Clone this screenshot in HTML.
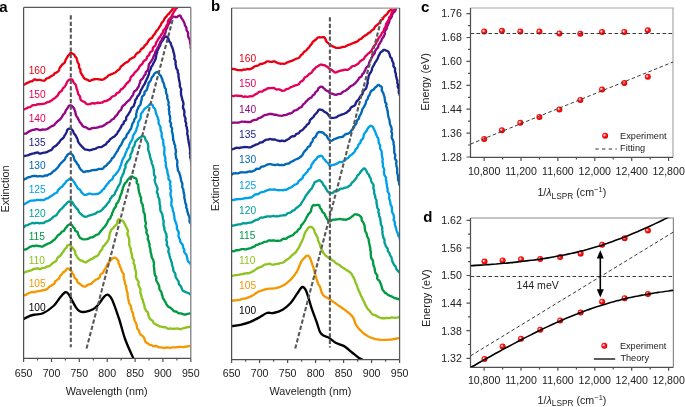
<!DOCTYPE html><html><head><meta charset="utf-8"><style>html,body{margin:0;padding:0;background:#fff;width:685px;height:407px;overflow:hidden}svg{display:block;will-change:transform}text{font-family:"Liberation Sans",sans-serif}</style></head><body>
<svg width="685" height="407" viewBox="0 0 685 407">
<defs>
<clipPath id="ca"><rect x="23.6" y="7.6" width="166.9" height="350.8"/></clipPath>
<clipPath id="cb"><rect x="231.6" y="8.5" width="167.9" height="351"/></clipPath>
<clipPath id="cd"><rect x="470.5" y="217.7" width="203" height="149.3"/></clipPath>
<radialGradient id="dot" cx="0.45" cy="0.45" r="0.6" fx="0.36" fy="0.38"><stop offset="0" stop-color="#ffffff"/><stop offset="0.2" stop-color="#ffb0b0"/><stop offset="0.42" stop-color="#ff1a1a"/><stop offset="0.8" stop-color="#f00000"/><stop offset="1" stop-color="#a00000"/></radialGradient>
</defs>
<g clip-path="url(#ca)" fill="none" stroke-width="2.35" stroke-linejoin="round" stroke-linecap="round">
<path d="M23.3 319.2 C24.4 318.6 27.9 316.7 29.9 315.9 C31.9 315.1 32.9 315.0 35.1 314.6 C37.3 314.2 39.9 314.7 43.0 313.3 C46.1 311.9 50.6 308.6 53.5 306.0 C56.4 303.4 58.1 299.8 60.1 297.5 C62.1 295.2 64.0 292.8 65.4 292.2 C66.8 291.6 67.5 292.9 68.6 294.2 C69.7 295.5 70.7 297.9 71.9 300.1 C73.1 302.3 74.6 305.4 75.9 307.3 C77.2 309.2 78.3 310.5 79.8 311.3 C81.3 312.1 82.9 312.2 85.1 311.9 C87.3 311.6 90.8 310.5 93.0 309.3 C95.2 308.1 96.5 306.7 98.2 304.7 C100.0 302.7 102.0 299.2 103.5 297.5 C105.0 295.8 106.1 294.4 107.5 294.7 C108.9 295.0 110.1 295.6 112.0 299.5 C113.9 303.4 116.6 311.5 118.8 318.0 C121.0 324.5 122.6 331.9 124.9 338.5 C127.2 345.1 131.2 353.5 132.9 357.4 C134.6 361.3 134.7 361.2 135.0 362.0" stroke="#000000"/>
<path d="M23.2 296.1 L23.8 295.4 L24.9 295.0 L26.3 294.7 L27.5 293.8 L28.7 293.2 L29.9 292.8 L31.2 292.2 L32.4 291.9 L33.7 292.1 L35.1 292.0 L36.1 291.7 L37.1 291.4 L38.2 291.2 L39.4 291.1 L40.5 290.8 L41.6 290.5 L42.8 290.3 L43.8 290.1 L44.9 289.8 L46.2 289.5 L47.3 288.9 L48.2 288.0 L49.1 287.0 L50.2 286.3 L51.3 285.8 L52.2 285.0 L53.3 284.4 L54.3 283.7 L54.8 282.5 L55.3 281.3 L56.2 280.6 L57.2 279.9 L58.0 279.2 L59.0 278.6 L59.6 277.4 L60.0 276.1 L60.8 275.1 L61.7 274.3 L62.4 273.3 L63.0 272.4 L64.0 271.9 L65.4 271.0 L66.1 269.7 L67.0 268.7 L68.0 268.5 L69.3 269.0 L70.6 270.5 L71.4 271.0 L71.9 271.8 L72.2 273.0 L72.9 273.9 L73.6 274.9 L74.0 276.1 L74.3 277.3 L74.9 278.2 L76.0 278.9 L76.8 279.8 L77.0 281.1 L77.5 282.2 L78.5 282.9 L79.4 283.4 L80.0 284.0 L81.0 284.8 L82.0 285.6 L82.9 286.2 L84.0 286.6 L85.1 286.7 L86.1 286.2 L86.9 285.5 L87.8 284.8 L89.0 284.4 L90.5 284.0 L91.5 283.7 L92.3 282.9 L93.1 281.8 L94.1 281.1 L95.0 280.3 L96.0 279.5 L97.2 279.1 L98.4 278.6 L99.3 277.9 L99.9 276.9 L100.1 275.7 L100.5 274.6 L101.3 273.8 L102.5 273.2 L103.3 272.4 L103.7 271.3 L104.2 270.3 L104.8 269.2 L105.6 268.3 L106.1 267.2 L106.6 266.0 L107.1 265.0 L107.8 264.0 L108.4 263.1 L109.3 262.0 L110.2 260.8 L111.2 259.7 L112.1 258.8 L112.9 258.0 L113.5 257.8 L114.3 257.7 L115.1 257.7 L116.3 258.4 L117.5 259.8 L118.2 260.4 L118.4 261.3 L118.4 262.4 L118.7 263.5 L119.3 264.4 L119.8 265.5 L120.0 266.8 L120.6 267.9 L121.2 269.0 L121.4 270.2 L121.8 271.3 L122.3 272.3 L123.2 273.3 L123.8 274.3 L123.7 275.5 L123.6 276.6 L123.9 277.7 L123.9 278.9 L124.2 280.0 L124.7 281.1 L124.8 282.3 L125.1 283.6 L125.5 285.0 L126.0 285.9 L126.3 286.9 L126.3 287.9 L126.4 289.0 L126.7 290.1 L126.8 291.2 L127.2 292.3 L127.7 293.4 L127.6 294.6 L127.6 295.8 L127.9 297.0 L128.0 298.2 L128.3 299.3 L128.6 300.4 L128.8 301.6 L129.0 302.7 L129.4 303.7 L130.1 304.8 L130.8 305.8 L131.0 307.0 L131.1 308.2 L131.5 309.4 L131.8 310.6 L132.2 311.7 L132.7 312.8 L133.1 313.9 L133.2 315.1 L133.4 316.2 L133.8 317.2 L134.1 318.2 L134.3 319.2 L134.5 320.2 L134.8 321.0 L135.6 322.4 L136.3 323.7 L136.6 325.0 L136.8 326.2 L137.0 327.3 L137.2 328.4 L137.7 329.2 L138.5 330.0 L139.1 331.1 L139.3 332.2 L139.8 333.2 L140.3 334.1 L141.1 335.0 L142.3 335.8 L143.1 336.4 L143.7 337.3 L144.3 338.4 L144.7 339.6 L145.0 340.9 L145.7 342.1 L146.7 342.9 L147.9 343.4 L148.8 344.1 L149.6 344.8 L151.0 345.0 L152.1 345.3 L153.1 346.1 L154.3 346.3 L155.6 346.0 L156.8 346.2 L158.0 346.9 L159.1 347.3 L160.4 347.3 L161.5 347.3 L162.6 347.7 L163.8 348.0 L165.0 347.8 L166.2 347.5 L167.5 347.5 L168.8 347.7 L169.9 347.9 L171.0 347.7 L172.2 347.4 L173.4 347.3 L174.6 347.4 L175.9 347.4 L177.1 347.1 L178.3 346.9 L179.4 347.0 L180.5 346.8 L181.6 346.8 L183.0 347.2 L184.3 347.1 L185.6 346.7 L186.7 346.5 L187.8 346.3 L188.9 346.1 L189.8 346.1 L190.6 346.1 L192.4 345.4 L192.9 344.6" stroke="#f39800"/>
<path d="M23.3 272.7 L24.0 272.5 L25.1 272.2 L26.3 271.7 L27.7 271.3 L28.9 270.9 L30.0 270.6 L31.4 270.3 L32.5 269.7 L33.6 268.9 L35.1 268.7 L36.1 268.7 L37.1 268.5 L38.2 268.5 L39.4 269.0 L40.6 269.0 L41.8 268.4 L42.9 267.9 L44.0 267.9 L45.1 267.7 L46.1 267.0 L47.1 266.5 L48.4 266.3 L49.6 265.9 L50.5 265.2 L51.4 264.4 L52.2 263.6 L53.1 262.8 L54.2 262.3 L55.3 261.6 L56.2 260.8 L56.7 259.7 L57.1 258.5 L57.9 257.7 L58.7 257.0 L59.6 256.2 L60.6 255.5 L61.3 254.6 L61.7 253.5 L62.4 252.7 L63.2 251.9 L63.8 250.9 L64.4 249.7 L65.4 248.7 L66.4 247.7 L67.0 246.4 L67.5 245.4 L68.5 245.1 L69.7 245.0 L70.5 245.4 L71.7 246.7 L72.1 247.3 L72.7 248.1 L73.5 249.0 L74.2 250.0 L74.9 251.0 L75.2 252.3 L75.3 253.7 L75.8 254.8 L76.5 255.7 L76.9 256.6 L77.8 257.9 L78.7 258.9 L79.5 259.7 L80.4 260.3 L81.5 260.5 L82.7 261.1 L83.8 261.8 L85.1 262.4 L86.2 262.4 L87.0 261.6 L88.0 261.0 L89.2 260.4 L90.2 259.6 L91.1 259.1 L92.2 258.8 L93.1 258.3 L94.0 257.5 L94.9 256.8 L96.0 256.5 L97.2 256.0 L97.9 255.2 L98.6 254.4 L99.3 253.5 L99.7 252.4 L100.2 251.3 L101.0 250.5 L101.9 249.7 L102.4 248.6 L102.6 247.4 L103.1 246.3 L104.2 245.7 L104.9 244.8 L105.5 243.8 L106.4 242.9 L107.2 241.9 L107.8 240.8 L108.4 239.8 L108.9 238.8 L109.2 237.6 L109.3 236.3 L109.6 235.0 L109.7 233.8 L109.9 232.6 L110.6 231.6 L110.9 230.7 L111.2 229.8 L112.5 228.6 L113.4 227.9 L114.0 227.0 L114.9 226.0 L115.9 225.2 L116.7 224.1 L117.2 222.7 L117.4 221.3 L117.8 220.1 L118.5 219.5 L119.8 219.3 L120.8 220.3 L121.9 220.4 L123.4 221.4 L123.7 222.1 L124.2 222.9 L124.7 223.7 L125.1 224.6 L125.6 225.7 L126.2 227.0 L127.0 228.3 L127.6 229.9 L128.0 230.7 L128.0 231.7 L127.5 232.9 L127.3 234.0 L127.7 235.1 L128.2 236.2 L128.8 237.4 L129.1 238.6 L129.1 239.9 L129.3 241.2 L129.3 242.4 L129.1 243.7 L129.3 244.9 L129.7 246.0 L130.0 247.1 L130.4 248.1 L130.8 249.0 L130.7 250.0 L130.9 251.4 L131.3 252.5 L131.4 253.5 L131.7 254.2 L132.1 254.9 L132.0 255.8 L132.0 256.9 L132.4 258.1 L133.3 259.6 L133.7 260.4 L133.7 261.3 L133.6 262.3 L133.6 263.3 L134.2 264.2 L134.6 265.2 L134.9 266.2 L134.8 267.4 L134.8 268.6 L135.4 269.6 L135.8 270.8 L135.8 272.0 L136.1 273.2 L136.1 274.5 L135.8 275.8 L136.0 277.1 L136.4 278.3 L137.0 279.5 L137.9 280.6 L138.6 281.8 L138.6 283.1 L138.3 284.2 L138.5 285.3 L139.1 286.2 L139.5 287.3 L140.1 288.3 L140.6 289.4 L140.5 290.6 L140.2 291.9 L140.4 293.1 L141.0 294.2 L141.3 295.4 L141.6 296.6 L141.6 297.8 L142.2 299.0 L142.9 300.0 L143.0 301.2 L143.1 302.4 L143.7 303.4 L144.2 304.5 L144.4 305.6 L144.5 306.7 L144.6 307.8 L145.0 308.7 L145.6 309.5 L145.9 310.4 L146.4 311.2 L147.4 311.7 L148.2 313.1 L148.3 314.8 L148.6 316.2 L149.2 317.3 L149.7 318.5 L150.5 319.4 L151.5 320.0 L152.3 320.6 L153.0 321.3 L153.3 322.4 L153.9 323.3 L154.8 323.8 L155.7 324.3 L156.7 324.9 L157.9 325.3 L158.9 326.0 L159.9 326.6 L161.2 326.6 L162.3 326.8 L163.5 327.2 L164.7 327.2 L165.9 327.4 L166.9 328.2 L168.0 328.8 L169.2 328.7 L170.4 328.4 L171.5 328.6 L172.6 328.8 L173.8 328.7 L175.0 328.7 L176.1 328.6 L177.3 328.5 L178.4 328.7 L179.5 329.1 L180.5 329.2 L181.5 329.1 L182.4 328.5 L183.8 328.0 L185.2 327.8 L186.4 327.3 L187.6 327.1 L188.8 327.2 L189.7 326.7 L190.5 326.3 L192.4 325.9 L193.4 325.6" stroke="#8fc31f"/>
<path d="M23.2 249.6 L24.1 249.6 L25.2 249.5 L26.5 249.2 L27.7 248.5 L28.8 247.5 L29.8 246.9 L31.2 246.5 L32.3 246.0 L33.6 245.9 L35.1 246.0 L36.1 245.6 L37.1 245.7 L38.2 246.1 L39.4 246.1 L40.6 246.4 L41.9 246.7 L43.1 246.3 L44.0 245.6 L45.0 245.1 L46.1 244.6 L47.2 244.0 L48.3 243.5 L49.6 243.1 L50.7 242.5 L51.7 241.8 L52.5 241.0 L53.5 240.3 L54.5 239.7 L55.3 238.8 L56.0 237.9 L56.7 237.0 L57.3 236.0 L58.0 235.3 L58.8 234.7 L59.9 234.0 L60.8 233.2 L61.5 232.1 L62.3 231.4 L63.5 231.1 L64.3 230.4 L64.9 229.0 L65.7 227.9 L66.6 227.1 L67.2 226.1 L68.3 225.1 L69.5 224.4 L70.6 224.3 L71.5 224.6 L72.4 225.7 L73.0 227.0 L74.1 227.9 L74.8 228.8 L74.9 230.1 L75.5 231.1 L76.9 231.5 L77.7 232.3 L77.9 233.6 L78.3 234.8 L78.9 235.8 L79.4 236.9 L80.0 237.7 L81.3 238.5 L82.5 239.1 L83.8 239.4 L84.9 239.3 L86.3 239.2 L87.7 239.0 L89.1 238.4 L90.0 237.7 L91.1 237.4 L92.3 237.4 L93.4 236.9 L94.3 236.2 L95.3 235.4 L96.1 234.9 L97.3 234.7 L98.4 234.2 L99.2 233.3 L100.0 232.3 L100.7 231.1 L101.8 230.0 L102.4 229.3 L102.9 228.5 L103.6 227.7 L104.5 227.1 L105.2 226.3 L105.6 225.3 L106.3 224.3 L107.0 223.3 L107.5 222.1 L108.0 220.9 L108.7 219.7 L109.9 218.6 L110.5 217.9 L110.6 216.8 L111.2 215.9 L111.9 215.0 L112.0 213.7 L112.4 212.6 L113.0 211.5 L113.4 210.3 L113.9 209.2 L114.6 208.1 L115.5 207.1 L116.1 206.0 L116.1 204.7 L116.6 203.6 L117.6 202.7 L118.3 201.8 L118.6 200.7 L119.1 199.8 L119.5 198.9 L119.7 198.0 L120.1 196.5 L120.6 195.1 L121.3 193.9 L121.7 192.8 L121.8 191.6 L122.2 190.5 L122.7 189.6 L122.7 188.6 L122.9 187.7 L123.4 186.9 L123.6 186.1 L124.2 184.6 L124.9 183.5 L125.5 182.7 L126.3 182.1 L126.9 181.3 L127.5 180.0 L128.5 179.2 L129.3 178.3 L129.9 177.4 L131.1 176.6 L132.3 176.5 L133.2 177.1 L134.2 177.9 L135.1 178.0 L136.2 178.6 L137.0 181.0 L136.6 182.0 L136.7 182.9 L137.4 183.7 L138.2 184.7 L138.3 185.9 L138.3 187.2 L138.5 188.4 L138.7 189.7 L138.8 191.1 L139.2 192.3 L139.6 193.6 L139.9 194.8 L140.2 196.0 L140.7 197.0 L141.1 198.0 L141.0 199.3 L141.0 200.5 L141.2 201.5 L141.4 202.5 L141.8 203.3 L142.4 204.2 L142.8 205.1 L142.7 206.2 L143.0 207.3 L143.4 208.6 L143.5 210.0 L143.4 210.9 L143.5 211.9 L144.1 212.9 L144.7 213.9 L144.8 215.0 L144.8 216.1 L144.9 217.3 L145.0 218.4 L145.1 219.7 L145.2 220.9 L145.6 222.0 L146.0 223.2 L145.7 224.5 L145.3 225.8 L145.5 227.0 L145.9 228.1 L146.3 229.2 L146.7 230.3 L146.6 231.4 L146.3 232.6 L146.8 233.7 L147.4 234.7 L147.8 235.7 L148.1 236.7 L147.9 237.9 L147.7 239.0 L148.1 240.0 L148.7 240.9 L148.7 242.0 L149.1 243.0 L149.6 244.0 L149.5 245.2 L149.6 246.4 L149.9 247.6 L150.2 248.8 L150.5 250.1 L150.5 251.1 L150.6 252.1 L150.9 253.1 L151.2 254.1 L151.5 255.1 L151.6 256.2 L151.7 257.3 L152.3 258.3 L153.0 259.4 L153.3 260.5 L153.6 261.6 L153.9 262.8 L154.0 263.9 L153.8 265.2 L153.8 266.4 L154.1 267.5 L154.3 268.7 L154.2 269.9 L154.4 271.0 L154.5 272.2 L154.6 273.3 L154.8 274.5 L155.2 275.5 L156.0 276.5 L156.4 277.6 L156.2 278.9 L156.2 280.1 L156.6 281.2 L157.3 282.3 L158.0 283.3 L158.5 284.5 L159.0 285.6 L159.3 286.8 L159.3 288.1 L159.5 289.3 L160.1 290.3 L160.9 291.3 L161.5 292.3 L161.7 293.5 L161.9 294.6 L162.4 295.6 L162.6 296.6 L162.7 297.7 L163.2 298.6 L163.9 299.3 L164.3 300.1 L164.6 300.9 L165.5 302.2 L166.1 303.5 L166.7 304.7 L167.5 305.6 L168.1 306.6 L169.0 307.2 L170.1 307.6 L170.9 308.1 L171.6 308.8 L172.3 309.4 L173.0 310.1 L173.5 311.0 L174.7 311.5 L176.1 311.5 L177.1 312.1 L178.1 313.0 L179.3 313.3 L180.5 313.3 L181.5 313.5 L182.5 314.0 L183.5 314.3 L184.9 314.5 L186.2 314.3 L187.4 313.8 L188.7 313.7 L189.7 313.5 L190.7 313.5 L192.4 313.0 L193.1 312.1" stroke="#009944"/>
<path d="M23.6 227.5 L24.2 226.9 L25.0 225.9 L26.2 225.4 L27.6 225.1 L28.8 224.5 L29.8 224.0 L31.1 223.5 L32.3 223.0 L33.7 223.2 L35.1 223.2 L36.1 222.9 L37.1 222.8 L38.2 223.0 L39.4 223.3 L40.6 223.1 L41.8 222.9 L43.1 223.2 L44.1 222.9 L44.9 222.0 L45.9 221.4 L47.2 221.3 L48.3 220.8 L49.3 220.1 L50.3 219.6 L51.3 218.9 L52.1 218.1 L52.9 217.3 L53.8 216.5 L55.0 216.0 L56.1 215.4 L57.0 214.5 L57.5 213.5 L58.1 212.5 L58.8 211.7 L59.6 210.6 L60.5 209.6 L61.5 208.8 L62.4 208.0 L63.2 207.2 L63.8 206.3 L64.7 205.2 L65.7 204.6 L66.4 203.8 L67.0 202.8 L68.1 201.9 L69.5 201.5 L70.6 201.4 L71.5 201.5 L72.4 202.3 L73.0 203.5 L73.7 204.6 L74.3 205.5 L75.0 206.4 L75.7 207.3 L76.4 208.3 L77.3 209.0 L78.1 209.9 L78.5 211.1 L79.0 212.1 L79.8 212.9 L80.5 213.7 L81.6 214.7 L82.6 215.6 L83.8 216.4 L84.9 216.7 L86.1 216.7 L87.4 216.3 L88.7 215.7 L89.9 215.3 L91.1 215.0 L92.2 214.6 L93.3 214.4 L94.6 213.9 L96.0 213.2 L96.7 212.5 L97.6 212.0 L98.8 211.7 L100.0 211.3 L101.1 210.7 L102.0 209.9 L102.8 208.9 L103.5 208.0 L104.3 207.3 L105.1 206.5 L105.9 205.8 L106.5 204.9 L107.1 203.9 L108.0 203.1 L108.7 202.1 L109.4 201.1 L109.9 199.9 L110.2 198.9 L111.0 198.1 L111.6 197.1 L112.1 196.1 L113.3 195.5 L114.3 194.8 L114.9 193.7 L115.2 192.4 L115.8 191.2 L116.6 190.0 L116.9 189.0 L117.4 188.1 L117.9 187.1 L118.5 186.0 L119.2 185.0 L119.8 183.8 L120.3 182.7 L120.7 181.5 L120.8 180.2 L120.9 179.0 L121.2 177.8 L121.9 176.9 L122.3 175.9 L122.5 174.9 L123.3 173.7 L123.8 172.5 L124.0 171.2 L124.3 170.1 L124.6 169.0 L125.3 168.1 L125.6 167.1 L125.3 165.8 L125.5 164.7 L126.1 163.6 L126.8 162.7 L127.2 161.8 L127.8 160.9 L128.7 160.1 L129.6 159.0 L130.3 157.5 L130.4 156.5 L130.3 155.4 L130.7 154.3 L131.3 153.2 L131.8 152.1 L132.4 150.9 L132.6 149.6 L132.7 148.2 L133.4 147.1 L134.3 146.0 L134.6 144.8 L134.9 143.7 L135.1 142.6 L135.4 141.7 L136.0 141.1 L137.4 139.6 L138.5 138.6 L139.4 137.9 L140.2 137.4 L141.0 136.8 L142.3 136.1 L143.6 136.3 L144.6 137.0 L144.9 137.6 L145.2 138.6 L145.5 139.7 L146.1 140.8 L147.1 142.0 L147.8 143.4 L148.0 144.4 L148.1 145.4 L148.3 146.5 L148.3 147.6 L148.1 148.9 L148.2 150.1 L148.7 151.3 L149.1 152.5 L149.4 153.8 L149.9 155.0 L149.9 156.1 L150.1 157.2 L150.6 158.2 L150.7 159.3 L151.2 160.3 L151.7 161.4 L151.6 162.6 L151.9 163.8 L152.6 164.8 L152.9 166.1 L153.2 167.3 L153.5 168.6 L153.9 169.9 L153.8 170.9 L153.8 172.0 L154.0 173.0 L153.9 174.1 L154.2 175.2 L155.0 176.2 L155.4 177.2 L155.1 178.4 L154.7 179.7 L154.7 180.8 L155.1 182.0 L155.4 183.1 L155.8 184.2 L156.4 185.3 L156.7 186.4 L157.2 187.5 L157.6 188.6 L157.5 189.7 L157.0 191.0 L156.9 192.1 L157.4 193.2 L157.9 194.3 L157.9 195.4 L158.0 196.6 L158.6 197.6 L159.2 198.7 L159.4 199.8 L159.4 201.0 L159.7 202.1 L159.6 203.3 L159.6 204.5 L160.2 205.5 L160.3 206.6 L160.1 207.8 L160.3 209.0 L160.3 210.1 L160.6 211.2 L161.3 212.2 L161.8 213.2 L162.2 214.3 L162.5 215.4 L162.7 216.5 L162.8 217.6 L162.9 218.7 L163.2 219.8 L163.6 220.8 L163.6 222.0 L163.5 223.1 L163.5 224.2 L163.6 225.3 L163.9 226.4 L164.4 227.5 L164.4 228.6 L164.4 229.8 L164.8 230.8 L165.3 231.9 L165.8 233.0 L166.3 234.0 L166.4 235.2 L166.5 236.3 L166.7 237.5 L166.4 238.7 L166.2 239.9 L166.6 241.0 L167.0 242.1 L167.0 243.2 L166.7 244.5 L166.9 245.6 L167.7 246.6 L168.4 247.6 L168.8 248.7 L168.7 249.9 L168.3 251.2 L168.4 252.3 L169.1 253.4 L169.4 254.5 L169.5 255.7 L169.8 256.8 L170.1 257.9 L170.6 259.0 L170.9 260.1 L171.2 261.3 L171.8 262.3 L171.9 263.4 L172.0 264.6 L172.3 265.7 L172.6 266.8 L173.1 267.8 L173.3 268.9 L173.2 270.0 L173.6 271.2 L174.3 272.3 L175.1 273.3 L175.5 274.4 L175.4 275.8 L175.7 277.0 L176.3 278.1 L177.0 279.1 L177.7 280.1 L178.4 281.0 L178.7 282.1 L178.7 283.2 L178.9 284.2 L179.6 285.0 L180.3 285.6 L180.8 286.2 L181.5 287.8 L182.0 288.9 L182.4 289.9 L182.8 290.8 L183.6 291.2 L184.6 291.5 L185.8 292.2 L187.1 292.7 L188.4 293.1 L189.6 293.7 L190.4 294.5 L192.1 295.0 L193.0 294.8" stroke="#009e96"/>
<path d="M23.2 204.3 L24.2 204.3 L25.2 203.7 L26.4 203.0 L27.7 202.3 L28.8 201.5 L29.9 201.0 L31.3 200.7 L32.4 200.6 L33.6 200.5 L35.1 200.4 L36.1 200.3 L37.1 199.8 L38.2 199.8 L39.4 200.1 L40.6 200.0 L41.8 200.0 L43.2 200.2 L44.4 199.9 L45.3 199.1 L46.3 198.5 L47.6 198.4 L48.7 197.7 L49.7 196.9 L50.8 196.4 L51.9 195.7 L52.9 194.9 L53.9 194.2 L54.7 193.5 L55.9 193.0 L57.0 192.4 L57.6 191.2 L58.1 190.0 L59.1 189.2 L59.9 188.4 L60.6 187.6 L61.6 187.0 L62.4 186.3 L63.2 185.2 L64.0 184.2 L65.0 183.4 L65.6 182.5 L66.1 181.5 L66.9 180.9 L68.4 179.8 L69.5 178.9 L70.6 178.7 L71.4 179.0 L72.3 179.8 L73.2 180.9 L74.0 182.0 L74.8 183.0 L75.3 184.1 L75.9 185.1 L76.6 186.0 L77.1 187.1 L77.8 188.2 L78.8 189.1 L79.9 189.8 L80.7 190.8 L81.2 192.0 L82.0 192.9 L82.9 193.6 L83.7 194.6 L84.8 194.9 L86.0 194.8 L87.3 194.4 L88.6 193.7 L90.0 193.6 L91.1 194.0 L92.2 194.2 L93.4 194.3 L94.6 194.2 L95.8 194.0 L96.9 194.0 L97.9 193.9 L99.0 193.3 L99.8 192.7 L100.8 192.1 L101.7 191.2 L102.6 189.8 L103.4 189.3 L104.3 188.7 L104.7 187.5 L105.4 186.6 L106.3 185.7 L106.8 184.6 L107.7 183.7 L108.6 182.9 L109.0 181.7 L109.7 180.9 L110.9 180.2 L112.0 179.5 L112.7 178.5 L113.1 177.2 L113.6 176.1 L114.5 175.4 L115.5 174.7 L116.1 173.6 L116.8 172.8 L117.6 172.0 L118.2 171.0 L118.8 170.0 L119.4 169.0 L119.8 167.9 L120.1 166.8 L120.6 165.8 L121.1 165.0 L121.3 163.8 L121.5 162.8 L121.9 161.9 L122.1 160.9 L122.5 159.8 L123.1 158.7 L123.9 157.4 L124.3 156.6 L124.7 155.7 L125.1 154.7 L125.4 153.6 L125.9 152.5 L126.4 151.4 L126.8 150.3 L127.2 149.1 L128.1 148.1 L128.8 147.1 L129.0 145.8 L129.3 144.6 L129.9 143.6 L130.3 142.5 L131.0 141.6 L131.6 140.7 L132.0 139.6 L132.6 138.7 L132.8 137.6 L132.8 136.4 L133.3 135.3 L133.9 134.4 L134.5 133.3 L135.2 132.3 L136.0 131.3 L136.3 130.1 L136.4 129.0 L136.9 128.0 L137.2 127.0 L137.6 125.9 L138.0 124.7 L138.0 123.5 L138.2 122.2 L138.8 121.1 L139.5 120.1 L140.2 119.0 L140.6 118.0 L140.8 116.8 L140.7 115.6 L140.8 114.6 L141.1 113.7 L141.7 112.9 L142.3 112.3 L143.4 110.7 L144.1 109.5 L144.9 108.5 L145.8 108.0 L146.6 107.4 L147.3 106.8 L148.6 105.7 L149.4 104.6 L150.3 104.1 L151.4 104.2 L152.5 105.0 L153.2 106.8 L153.5 107.6 L154.5 108.2 L155.1 109.1 L155.4 110.2 L155.6 111.4 L155.8 112.7 L156.2 113.8 L156.7 114.9 L157.1 116.0 L157.6 117.0 L157.9 118.0 L158.0 119.0 L158.5 119.9 L158.7 120.9 L158.5 122.0 L158.6 123.2 L159.1 124.5 L159.9 125.8 L160.3 126.7 L160.6 127.6 L160.5 128.6 L160.5 129.7 L160.9 130.7 L161.2 131.7 L161.6 132.8 L161.8 133.9 L161.6 135.2 L161.7 136.4 L162.0 137.6 L162.4 138.7 L163.0 139.9 L163.3 141.1 L163.2 142.4 L163.4 143.6 L163.5 144.6 L163.6 145.7 L164.2 146.8 L164.5 147.9 L164.4 149.1 L164.4 150.2 L164.3 151.4 L164.2 152.6 L164.2 153.8 L164.4 155.0 L164.9 156.2 L165.2 157.3 L165.4 158.5 L165.3 159.6 L165.2 160.8 L165.6 161.8 L166.0 162.9 L165.8 164.0 L165.7 165.0 L166.0 166.2 L166.2 167.4 L166.5 168.4 L167.0 169.4 L167.3 170.4 L167.3 171.4 L167.5 172.4 L167.7 173.4 L167.8 174.4 L168.3 175.4 L168.6 176.4 L168.5 177.6 L168.4 178.8 L169.1 179.9 L170.1 181.0 L170.5 182.0 L170.2 183.0 L169.9 184.1 L170.1 185.1 L170.6 186.2 L170.5 187.3 L170.2 188.4 L170.6 189.5 L171.1 190.6 L170.9 191.8 L170.5 193.0 L170.5 194.2 L170.6 195.3 L170.8 196.5 L171.3 197.7 L171.6 198.9 L171.7 200.1 L171.6 201.3 L171.4 202.6 L171.3 203.9 L171.3 205.1 L171.6 206.1 L172.2 207.1 L172.6 208.1 L172.6 209.3 L172.8 210.4 L173.2 211.4 L173.7 212.5 L173.9 213.6 L173.9 214.8 L174.3 215.9 L174.4 217.1 L174.4 218.3 L174.6 219.4 L175.1 220.5 L175.5 221.6 L175.8 222.7 L176.3 223.8 L176.6 224.8 L176.8 225.9 L177.0 227.0 L176.8 228.1 L177.0 229.2 L177.6 230.1 L178.1 231.0 L178.5 231.9 L178.8 233.1 L178.6 234.5 L178.5 235.9 L178.8 237.1 L179.3 238.2 L179.8 239.2 L180.1 240.4 L180.3 241.5 L180.7 242.5 L181.5 243.4 L182.3 244.2 L182.7 245.2 L183.0 246.2 L183.0 247.3 L183.4 248.2 L184.1 249.0 L184.4 250.0 L184.1 251.1 L184.4 252.5 L185.3 253.5 L186.3 254.6 L186.7 255.8 L187.0 257.1 L187.3 258.3 L187.5 259.5 L187.8 260.7 L188.3 261.6 L189.1 262.4 L189.9 263.0 L190.3 263.7 L190.7 264.3 L191.8 266.1 L192.7 266.4 L193.3 266.4" stroke="#00a0e9"/>
<path d="M23.5 180.2 L24.0 179.4 L25.0 178.9 L26.3 178.6 L27.4 177.7 L28.6 177.1 L29.9 177.1 L31.2 176.5 L32.3 176.1 L33.6 176.0 L35.1 176.0 L36.1 175.9 L37.1 176.3 L38.2 176.4 L39.4 176.1 L40.6 176.2 L41.8 176.3 L43.0 176.3 L43.9 176.1 L44.9 175.5 L46.0 175.5 L47.2 175.5 L48.2 174.7 L49.2 174.2 L50.4 174.0 L51.4 173.3 L52.1 172.5 L52.9 171.6 L53.8 170.9 L55.0 170.3 L55.8 169.5 L56.6 168.6 L57.5 167.8 L58.2 166.9 L58.8 166.0 L59.5 165.0 L60.2 164.0 L61.0 163.2 L61.8 162.3 L62.6 161.6 L63.4 160.9 L64.2 160.2 L65.0 159.2 L65.4 158.0 L65.9 157.0 L66.7 156.2 L67.1 155.3 L68.2 154.2 L69.5 153.5 L70.6 153.7 L71.2 154.0 L72.2 154.6 L73.0 155.6 L73.6 156.8 L74.0 158.0 L74.2 159.2 L74.6 160.2 L75.4 161.2 L76.3 162.1 L76.8 163.1 L77.2 164.1 L78.2 164.9 L78.7 165.9 L79.1 167.1 L79.7 168.0 L80.3 168.9 L81.0 169.9 L82.0 170.7 L82.9 171.4 L83.8 172.0 L84.9 171.9 L86.1 171.3 L87.5 171.2 L89.0 171.2 L90.0 171.0 L91.0 170.6 L92.0 170.2 L93.2 170.1 L94.4 170.0 L95.6 170.0 L96.7 169.9 L97.8 169.3 L98.9 168.9 L100.1 168.9 L101.3 169.0 L102.5 168.8 L103.5 168.0 L104.1 167.0 L104.9 166.3 L106.0 165.9 L106.8 165.0 L107.5 164.0 L108.5 163.2 L109.4 162.2 L110.3 161.2 L111.0 160.5 L111.5 159.5 L111.9 158.5 L112.8 157.8 L113.7 157.1 L114.3 156.0 L114.8 154.9 L115.5 154.0 L116.1 153.0 L116.6 152.0 L117.4 151.1 L117.9 150.1 L118.3 149.1 L119.0 148.2 L119.4 147.1 L120.0 146.2 L120.8 145.4 L121.4 144.4 L121.8 143.3 L122.3 142.2 L122.9 141.1 L123.5 139.8 L124.1 139.0 L124.9 138.3 L125.7 137.6 L126.2 136.7 L126.5 135.6 L126.8 134.6 L127.5 133.7 L128.3 132.9 L128.9 131.9 L129.4 130.8 L130.1 129.8 L130.9 128.8 L131.4 127.6 L131.7 126.3 L132.1 124.9 L132.3 124.0 L132.8 123.1 L133.5 122.3 L134.0 121.3 L134.1 120.2 L134.5 119.1 L135.3 118.2 L136.0 117.1 L136.3 116.0 L136.2 114.7 L136.3 113.4 L136.7 112.3 L136.8 111.1 L137.2 109.9 L137.9 108.9 L138.2 107.8 L138.7 106.7 L139.4 105.8 L140.2 105.0 L140.6 104.0 L140.8 103.0 L140.8 102.0 L141.1 101.2 L141.7 99.7 L141.8 98.2 L142.0 96.8 L142.9 95.8 L144.0 94.9 L144.5 93.9 L144.4 92.6 L144.8 91.5 L145.8 90.9 L146.5 90.2 L146.9 89.3 L147.3 88.5 L147.4 87.6 L147.9 86.0 L148.4 84.9 L148.4 83.7 L148.6 82.8 L149.4 82.1 L150.2 81.2 L150.8 80.2 L151.2 79.0 L151.6 77.8 L152.4 76.8 L153.2 75.9 L153.7 75.0 L154.4 73.7 L155.4 72.8 L156.4 72.3 L157.1 72.0 L158.0 72.0 L158.8 73.1 L159.4 74.4 L160.0 75.1 L160.7 75.6 L161.2 76.6 L161.7 78.1 L162.2 78.9 L162.5 79.8 L162.5 80.9 L163.0 81.9 L163.6 83.0 L164.0 84.2 L164.3 85.5 L164.5 86.8 L165.0 88.0 L165.8 88.8 L166.0 89.7 L165.9 90.8 L166.0 91.8 L166.2 92.8 L166.4 93.8 L166.9 94.7 L167.3 95.8 L167.2 97.1 L167.3 98.4 L167.9 99.7 L168.3 101.1 L168.6 102.0 L168.7 103.0 L168.4 104.0 L168.4 105.1 L169.0 106.2 L169.2 107.3 L168.9 108.5 L168.8 109.7 L169.2 110.9 L169.4 112.1 L169.2 113.4 L169.5 114.6 L169.9 115.8 L170.1 117.0 L170.2 118.2 L170.1 119.4 L169.8 120.7 L170.0 121.8 L170.8 122.9 L171.1 123.9 L170.8 125.0 L170.8 126.2 L171.5 127.3 L172.1 128.4 L172.1 129.5 L171.9 130.6 L171.9 131.7 L172.3 132.6 L172.5 133.6 L172.7 134.6 L172.9 135.6 L173.0 136.7 L173.1 137.8 L173.2 138.9 L173.2 140.0 L173.7 141.2 L174.1 142.3 L174.2 143.6 L174.7 144.6 L175.2 145.5 L175.1 146.6 L175.2 147.7 L175.5 148.8 L175.7 149.9 L176.0 151.1 L176.0 152.3 L175.5 153.5 L175.7 154.7 L176.0 155.9 L175.9 157.2 L176.2 158.4 L176.8 159.5 L177.2 160.6 L177.4 161.8 L177.3 163.0 L177.1 164.1 L177.2 165.2 L177.3 166.3 L177.5 167.3 L177.8 168.2 L177.8 169.2 L177.8 170.1 L178.6 171.5 L179.3 172.7 L179.6 173.9 L179.9 174.8 L180.2 175.8 L180.4 176.7 L180.5 177.6 L180.9 178.5 L181.0 179.6 L181.1 180.8 L181.7 182.0 L182.3 183.5 L182.4 184.4 L182.3 185.4 L182.2 186.4 L182.4 187.5 L183.0 188.5 L183.4 189.6 L183.4 190.7 L183.6 191.9 L183.8 193.1 L184.1 194.3 L184.5 195.5 L184.3 196.8 L184.3 198.1 L184.8 199.3 L185.0 200.5 L185.1 201.7 L185.4 202.9 L185.7 204.0 L186.2 205.1 L186.4 206.1 L186.2 207.2 L186.6 208.2 L187.1 209.1 L187.1 210.0 L187.4 211.6 L187.9 213.0 L188.2 214.4 L188.8 215.6 L189.4 216.7 L189.5 217.9 L189.6 219.0 L189.6 220.0 L189.5 221.1 L189.7 222.0 L190.2 222.8 L190.9 223.5 L191.2 225.1 L191.3 226.6 L192.1 227.6 L192.7 228.5 L192.9 229.3 L193.3 229.9" stroke="#0068b7"/>
<path d="M23.2 156.6 L23.9 156.2 L25.0 155.9 L26.3 155.6 L27.7 155.4 L28.9 154.9 L30.0 154.3 L31.3 154.0 L32.5 153.7 L33.7 153.4 L35.1 153.0 L36.1 152.8 L37.2 152.5 L38.3 152.7 L39.4 153.6 L40.6 153.6 L41.8 153.2 L43.0 152.8 L44.0 152.6 L45.1 152.5 L46.2 152.3 L47.3 151.9 L48.3 151.3 L49.3 150.7 L50.5 150.4 L51.5 149.9 L52.2 149.0 L52.9 147.9 L53.7 147.0 L54.7 146.4 L55.8 145.9 L56.7 145.1 L57.4 144.2 L58.2 143.4 L59.0 142.6 L59.8 141.6 L60.4 140.5 L61.3 139.5 L62.3 138.8 L63.2 138.0 L63.9 137.1 L64.3 136.0 L65.1 134.8 L65.8 133.6 L66.4 132.5 L66.8 131.4 L67.1 130.3 L68.1 129.1 L69.5 128.6 L70.6 128.5 L71.4 129.1 L72.3 130.0 L73.1 131.2 L73.6 132.7 L74.1 133.6 L75.0 134.5 L75.7 135.6 L76.3 136.7 L76.8 137.9 L77.4 139.0 L77.8 140.2 L78.0 141.6 L78.7 142.7 L79.4 143.7 L80.1 144.7 L80.9 145.4 L81.8 146.4 L82.5 147.1 L83.2 147.8 L84.0 148.6 L84.9 149.5 L86.3 149.6 L87.6 149.8 L89.0 150.2 L90.0 150.2 L91.1 150.0 L92.1 149.6 L93.3 149.2 L94.5 149.0 L95.7 148.7 L96.7 148.0 L97.7 147.5 L98.9 147.1 L100.2 147.2 L101.4 147.1 L102.5 146.4 L103.5 145.7 L104.5 145.1 L105.7 144.5 L106.5 143.5 L107.1 142.4 L108.2 141.7 L109.1 140.8 L109.8 139.7 L110.7 138.9 L111.7 138.1 L112.7 137.4 L113.9 136.9 L114.9 136.1 L115.7 135.1 L116.7 134.1 L117.2 133.2 L117.7 132.2 L118.3 131.4 L119.1 130.5 L119.6 129.5 L120.2 128.5 L120.9 127.5 L121.4 126.1 L122.1 124.8 L123.1 124.3 L123.7 123.4 L123.7 122.1 L124.3 121.2 L125.6 120.5 L126.2 119.5 L126.1 118.0 L126.5 116.7 L127.3 115.8 L128.1 114.8 L128.7 113.7 L129.4 112.7 L129.9 111.7 L130.4 110.7 L130.8 109.6 L131.2 108.4 L132.1 107.4 L133.2 106.6 L133.9 105.6 L134.2 104.4 L134.6 103.4 L135.1 102.3 L135.1 101.1 L135.3 100.0 L136.1 99.2 L136.8 98.3 L137.0 97.3 L137.6 96.2 L138.5 95.3 L139.2 94.4 L139.7 93.4 L140.2 92.5 L140.4 91.4 L140.8 90.4 L141.4 89.5 L141.9 88.5 L142.4 87.6 L142.9 86.6 L143.5 85.6 L144.1 84.7 L144.8 83.8 L145.2 82.8 L145.5 81.7 L146.0 80.7 L146.5 79.7 L147.0 78.6 L147.6 77.5 L148.0 76.5 L148.3 75.4 L148.9 74.4 L149.1 73.2 L149.1 71.9 L149.6 70.8 L150.3 69.8 L150.8 68.7 L151.1 67.5 L151.5 66.4 L152.3 65.4 L153.0 64.4 L153.3 63.3 L153.9 62.3 L154.5 61.2 L155.0 60.1 L155.5 59.1 L155.9 57.9 L156.0 56.7 L156.2 55.5 L156.4 54.4 L156.8 53.4 L157.2 52.4 L157.2 51.4 L157.5 50.5 L158.3 49.2 L158.8 47.9 L159.3 46.8 L160.0 45.8 L160.4 44.8 L160.5 43.8 L160.9 42.9 L161.7 41.7 L162.5 40.6 L163.2 39.7 L163.6 38.8 L164.6 37.1 L166.0 36.5 L167.2 37.1 L168.5 38.8 L168.8 39.6 L168.9 40.6 L169.3 41.5 L170.2 42.3 L170.8 43.4 L171.1 44.8 L171.6 46.1 L172.3 47.6 L172.6 48.5 L172.9 49.4 L173.2 50.4 L173.3 51.5 L173.7 52.6 L174.1 53.8 L174.3 55.0 L174.6 56.2 L174.5 57.4 L174.3 58.7 L174.9 59.8 L175.5 60.9 L175.7 62.0 L175.5 63.1 L175.5 64.1 L175.8 65.0 L176.0 66.4 L176.2 67.7 L176.6 68.7 L177.3 69.6 L177.8 70.5 L177.7 71.5 L177.8 72.6 L178.4 73.6 L178.6 74.9 L178.4 76.0 L178.6 77.0 L178.8 78.1 L178.9 79.3 L179.2 80.4 L179.5 81.6 L179.7 82.8 L180.0 84.0 L179.8 85.3 L179.9 86.5 L180.5 87.7 L181.1 88.8 L181.2 89.9 L180.9 91.2 L181.0 92.3 L181.0 93.3 L181.0 94.4 L181.3 95.3 L181.6 96.3 L181.8 97.4 L182.1 98.5 L182.3 99.7 L182.8 100.9 L183.3 102.3 L183.5 103.9 L183.3 104.9 L183.2 105.8 L183.0 106.9 L183.0 107.9 L183.5 108.9 L184.0 109.9 L184.3 111.0 L184.4 112.1 L184.3 113.3 L184.2 114.5 L184.4 115.7 L184.9 116.9 L185.4 118.0 L185.5 119.2 L185.3 120.5 L185.5 121.7 L186.1 122.9 L186.2 124.1 L186.0 125.4 L186.5 126.5 L186.9 127.7 L186.9 128.8 L187.3 129.9 L187.5 131.1 L187.3 132.3 L187.2 133.5 L187.4 134.7 L187.8 135.9 L188.0 137.1 L188.0 138.3 L188.3 139.5 L188.6 140.7 L188.6 141.9 L188.9 143.1 L189.2 144.3 L189.4 145.5 L189.6 146.6 L189.8 147.8 L189.9 148.9 L190.1 150.0 L190.3 151.1 L190.2 152.2 L189.9 153.2 L190.3 154.2 L190.6 155.1 L190.2 156.1 L190.3 157.7 L190.8 159.2 L191.0 160.7 L191.1 162.2 L191.4 163.5 L191.6 164.7 L192.2 165.8 L192.6 166.8 L192.2 167.8 L192.5 168.7 L193.3 169.3 L193.6 169.9" stroke="#1d2088"/>
<path d="M23.2 134.2 L24.0 133.9 L25.1 133.6 L26.5 133.3 L27.6 132.4 L28.8 131.6 L29.9 131.2 L31.1 130.4 L32.4 130.0 L33.7 129.9 L35.1 129.5 L36.1 129.1 L37.1 129.1 L38.2 129.5 L39.4 130.0 L40.6 130.1 L41.8 129.7 L43.0 129.5 L44.2 129.7 L45.4 129.6 L46.6 129.2 L47.8 128.7 L48.9 128.0 L50.0 127.3 L51.0 126.6 L52.0 126.0 L53.2 125.7 L54.2 125.2 L54.8 124.2 L55.6 123.3 L56.4 122.6 L57.1 121.7 L58.0 121.1 L58.8 120.3 L59.8 119.5 L60.8 118.7 L61.5 117.7 L62.0 116.5 L62.7 115.6 L63.3 114.6 L64.0 113.8 L65.0 112.9 L65.4 111.7 L65.7 110.6 L66.3 109.8 L67.0 109.0 L67.8 107.7 L68.5 106.4 L69.6 105.4 L70.6 105.3 L71.4 105.6 L72.4 106.4 L73.4 107.6 L74.3 109.0 L74.6 109.9 L75.0 111.0 L75.4 112.0 L75.5 113.3 L75.7 114.5 L76.2 115.6 L76.8 116.6 L77.6 117.7 L78.1 118.9 L78.8 120.0 L79.4 121.1 L79.8 122.2 L80.6 123.0 L81.4 124.0 L82.0 124.9 L82.6 125.9 L83.5 126.7 L84.6 127.0 L85.9 127.3 L86.9 127.8 L87.9 128.6 L89.0 129.1 L90.0 129.1 L91.0 128.6 L92.0 128.2 L93.2 128.0 L94.4 127.9 L95.6 127.8 L96.7 127.6 L97.9 127.5 L99.0 126.9 L100.1 126.6 L101.4 126.6 L102.5 126.1 L103.5 125.7 L104.5 125.1 L105.4 124.4 L106.3 123.7 L107.2 123.0 L108.3 122.5 L109.3 122.0 L110.3 121.4 L111.0 120.5 L111.8 119.7 L112.8 119.2 L113.8 118.7 L114.5 117.8 L115.1 116.7 L116.0 115.8 L116.9 115.2 L117.5 114.2 L118.0 113.2 L118.7 112.1 L119.4 111.1 L120.4 110.3 L121.3 109.4 L121.7 108.2 L122.0 107.0 L122.8 106.0 L123.8 105.2 L124.8 104.5 L125.5 103.6 L126.3 102.7 L127.1 101.9 L128.0 101.0 L129.1 100.3 L129.9 99.5 L130.5 98.5 L131.1 97.5 L131.7 96.5 L132.5 95.6 L133.2 94.6 L133.5 93.3 L133.9 92.1 L134.7 91.1 L135.8 90.5 L136.7 89.6 L137.3 88.5 L138.0 87.5 L138.7 86.5 L139.0 85.2 L139.4 84.0 L140.0 83.0 L140.2 81.8 L140.4 80.6 L141.3 79.7 L142.4 78.9 L143.0 78.0 L143.5 77.0 L143.9 76.0 L144.7 75.2 L145.5 74.3 L145.6 73.1 L145.9 71.9 L146.8 71.1 L147.7 70.3 L148.1 69.2 L148.4 68.0 L148.6 66.8 L148.7 65.4 L149.1 64.0 L149.8 63.1 L150.4 62.3 L151.1 61.3 L151.7 60.3 L152.3 59.3 L152.9 58.2 L153.4 57.1 L153.8 55.9 L154.4 54.8 L155.0 53.7 L155.2 52.5 L155.6 51.4 L156.2 50.4 L156.9 49.4 L157.3 48.3 L157.9 47.3 L158.6 46.4 L159.1 45.3 L159.5 44.2 L159.9 43.1 L160.3 41.9 L161.1 40.9 L161.8 39.8 L162.0 38.7 L162.7 37.7 L163.5 36.8 L164.1 35.6 L164.6 34.4 L165.2 33.3 L165.6 32.1 L165.7 30.7 L166.0 29.5 L166.8 28.5 L167.3 27.5 L167.5 26.5 L167.8 25.6 L168.2 24.9 L169.2 23.1 L170.0 22.1 L170.2 21.3 L170.3 20.2 L170.9 19.1 L171.7 18.2 L172.4 17.3 L173.2 16.6 L174.4 16.7 L175.7 17.2 L177.0 17.0 L178.0 16.3 L179.4 15.4 L180.8 16.0 L180.9 17.0 L181.3 17.8 L182.0 18.7 L182.7 19.8 L183.4 20.9 L184.0 22.2 L184.6 23.5 L184.8 24.6 L185.0 25.7 L185.9 26.6 L186.4 27.7 L186.4 29.0 L186.6 30.2 L187.2 31.3 L188.0 32.4 L188.2 33.6 L188.0 34.9 L188.1 36.0 L188.4 37.1 L188.9 38.1 L189.5 39.1 L189.9 40.2 L190.0 41.3 L190.1 42.5 L190.3 43.6 L190.6 44.7 L190.8 45.9 L190.6 47.1 L190.8 48.3 L191.5 49.4 L191.8 50.7 L191.9 52.0 L192.1 53.3 L192.3 54.5 L192.3 55.6 L192.7 56.5 L193.1 57.3 L192.8 58.0" stroke="#920783"/>
<path d="M23.2 109.8 L23.9 109.3 L25.0 109.0 L26.3 108.5 L27.5 107.7 L28.8 107.3 L30.0 107.1 L31.1 106.5 L31.9 105.7 L32.7 105.2 L33.8 105.1 L35.1 105.1 L36.1 104.9 L37.1 104.4 L38.2 104.2 L39.4 104.2 L40.6 104.1 L41.8 104.0 L43.0 103.8 L44.2 103.6 L45.3 103.3 L46.4 102.7 L47.6 102.2 L48.8 101.9 L50.0 101.4 L51.0 100.8 L52.0 100.2 L52.8 99.4 L53.7 98.8 L54.7 98.2 L55.6 97.4 L56.4 96.6 L57.3 95.9 L58.0 95.1 L58.4 94.0 L59.1 92.9 L59.9 92.0 L61.0 91.3 L62.0 90.5 L62.4 89.4 L62.9 88.3 L63.7 87.6 L64.8 86.7 L65.5 85.5 L66.0 84.4 L66.6 83.4 L67.0 82.3 L67.7 81.0 L68.7 80.0 L69.8 79.5 L70.6 79.4 L71.5 79.4 L72.5 79.9 L73.1 81.2 L73.7 82.6 L74.3 83.4 L75.3 84.2 L75.9 85.3 L76.2 86.6 L76.5 87.9 L76.8 89.2 L77.3 90.3 L77.7 91.5 L77.9 92.9 L78.3 94.1 L79.1 95.2 L79.9 96.2 L80.2 97.3 L80.2 98.5 L80.8 99.9 L81.8 100.8 L82.9 101.3 L84.1 101.8 L85.0 102.3 L85.7 103.2 L86.6 104.0 L87.8 104.4 L89.0 104.2 L90.0 104.0 L91.0 103.7 L92.0 103.2 L93.2 103.2 L94.5 103.5 L95.7 103.4 L96.7 102.9 L97.8 102.7 L99.0 103.0 L100.2 102.9 L101.3 102.6 L102.4 102.5 L103.4 101.8 L104.4 101.2 L105.7 101.0 L106.9 100.8 L108.0 100.1 L109.1 99.5 L110.2 98.9 L111.0 98.0 L111.6 97.0 L112.6 96.4 L113.9 96.0 L114.9 95.5 L115.8 94.9 L116.3 93.9 L117.2 92.9 L118.3 92.7 L119.3 92.1 L120.0 91.0 L120.8 89.6 L121.6 89.1 L122.6 88.6 L123.4 87.8 L124.2 86.9 L125.0 85.9 L125.6 84.9 L126.3 83.8 L127.4 83.0 L128.2 82.1 L128.9 81.3 L129.9 80.4 L130.3 79.2 L130.5 77.9 L131.1 76.9 L131.9 76.0 L132.9 75.3 L133.7 74.4 L134.2 73.3 L135.0 72.4 L135.8 71.6 L136.6 70.8 L137.4 70.0 L138.2 69.1 L138.8 68.1 L139.3 67.0 L140.0 65.9 L140.8 65.0 L141.9 64.2 L142.6 63.5 L143.0 62.4 L143.5 61.5 L144.4 60.7 L145.4 60.1 L146.3 59.4 L146.8 58.3 L147.0 57.0 L147.6 56.1 L148.7 55.5 L149.4 54.5 L149.5 53.3 L150.1 52.3 L151.3 51.6 L152.3 50.9 L152.7 49.8 L152.8 48.4 L153.2 47.3 L154.1 46.5 L155.1 45.7 L155.7 44.8 L155.9 43.6 L156.2 42.4 L156.9 41.5 L157.5 40.5 L158.1 39.4 L158.7 38.5 L159.4 37.5 L160.1 36.5 L160.7 35.6 L161.2 34.6 L161.9 33.8 L162.6 33.0 L163.0 32.1 L163.3 30.7 L163.9 29.7 L164.6 28.9 L165.4 28.2 L165.9 27.2 L166.2 26.1 L167.0 25.0 L167.6 24.2 L167.9 23.1 L167.9 21.9 L168.2 20.7 L168.8 19.7 L169.7 18.8 L170.6 17.9 L171.2 16.9 L171.8 16.0 L172.2 15.0 L172.8 13.9 L173.4 12.9 L173.8 11.7 L174.6 10.9 L175.2 10.0 L175.6 9.0 L176.5 8.3 L177.2 7.6 L177.8 6.2 L178.7 5.0 L179.7 4.0 L180.2 3.0 L180.4 2.2" stroke="#e4005a"/>
<path d="M23.4 85.0 L24.1 84.7 L25.1 84.2 L26.2 83.3 L27.5 82.8 L28.8 82.4 L29.8 81.7 L30.9 81.4 L32.1 81.3 L32.9 80.7 L33.8 79.7 L35.0 79.3 L36.1 79.8 L37.2 80.1 L38.4 79.9 L39.6 79.9 L40.7 80.1 L41.8 80.4 L43.0 80.6 L44.1 80.7 L45.2 80.2 L45.9 79.1 L46.7 78.3 L47.9 78.1 L49.0 77.7 L49.9 77.0 L50.8 76.4 L51.9 75.8 L53.0 75.3 L53.9 74.5 L54.6 73.4 L55.8 72.9 L56.8 72.3 L57.8 71.6 L58.7 70.8 L59.2 69.6 L59.5 68.3 L60.1 67.3 L60.9 66.4 L61.6 65.4 L62.4 64.5 L63.4 63.7 L64.5 62.9 L65.1 61.7 L65.4 60.4 L65.9 59.3 L66.6 58.3 L67.1 57.4 L67.8 56.1 L68.8 55.1 L69.6 54.2 L70.1 53.3 L70.9 52.8 L71.8 53.2 L72.6 53.7 L73.8 54.3 L74.7 55.5 L75.0 56.5 L75.9 57.2 L76.6 58.2 L76.9 59.5 L77.3 60.8 L77.7 62.1 L78.1 63.1 L78.8 64.2 L79.1 65.4 L79.0 66.7 L79.3 68.0 L80.1 69.0 L80.5 70.1 L80.3 71.4 L80.7 72.7 L81.5 73.9 L82.1 75.0 L82.8 75.9 L83.3 76.9 L83.9 77.9 L84.7 78.8 L85.7 79.3 L86.9 79.5 L87.9 80.0 L89.0 80.8 L90.1 80.9 L91.1 80.3 L92.2 79.8 L93.3 79.5 L94.4 79.2 L95.6 79.2 L96.7 79.1 L97.8 79.1 L99.0 79.3 L100.2 79.5 L101.3 79.7 L102.4 79.7 L103.5 79.4 L104.4 78.9 L105.2 78.1 L106.2 77.6 L107.2 76.9 L107.9 75.9 L108.9 75.1 L110.0 74.9 L111.1 74.3 L112.2 73.9 L113.2 73.5 L114.1 72.9 L115.2 72.5 L116.3 71.8 L117.0 70.9 L118.0 70.1 L119.1 69.5 L120.0 68.4 L120.5 67.2 L121.3 66.1 L122.4 65.5 L123.3 64.7 L124.1 63.9 L125.0 63.2 L126.0 62.6 L127.0 62.1 L128.0 61.6 L128.8 60.8 L129.6 59.7 L130.6 58.9 L131.6 58.3 L132.7 57.7 L133.9 57.3 L135.0 56.4 L135.4 55.1 L136.1 54.1 L137.0 53.3 L138.1 52.6 L139.3 52.0 L140.2 51.1 L140.7 49.7 L141.3 48.9 L142.4 48.4 L143.3 47.8 L143.9 46.9 L144.5 45.9 L145.3 45.1 L146.1 44.3 L147.0 43.5 L147.6 42.5 L148.0 41.4 L148.7 40.6 L149.3 39.7 L150.1 38.9 L151.2 38.4 L152.2 37.7 L152.7 36.6 L153.3 35.5 L154.1 34.6 L155.0 33.7 L155.4 32.7 L155.9 31.7 L156.7 30.9 L157.4 30.0 L158.1 29.1 L158.8 28.1 L159.3 27.1 L160.0 26.2 L160.7 25.3 L161.1 24.2 L161.5 23.2 L162.1 22.4 L163.0 21.5 L163.8 20.4 L164.3 19.2 L164.8 18.1 L165.6 17.2 L166.5 16.5 L167.1 15.5 L167.8 14.6 L168.7 14.0 L169.5 13.0 L170.3 12.0 L171.1 11.2 L171.8 10.2 L172.3 9.3 L173.1 8.5 L173.6 7.7 L174.3 6.2 L174.9 4.8 L175.7 3.9 L176.5 3.3" stroke="#e60012"/>
</g>
<g stroke="#595959" stroke-width="2.1" stroke-dasharray="4.3 2.15" fill="none">
<line x1="70.8" y1="15.2" x2="70.8" y2="347.2"/>
<line x1="86.5" y1="348.6" x2="173.3" y2="17.2"/>
</g>
<path d="M23.60 7.40 H190.80" fill="none" stroke="#5a5a5a" stroke-width="1.25"/>
<path d="M190.80 7.40 V358.40" fill="none" stroke="#7a7a7a" stroke-width="1.25"/>
<path d="M23.60 7.40 V358.40 H190.80" fill="none" stroke="#505050" stroke-width="1.25"/>
<path d="M23.6 358.4 v3.5 M37.5 358.4 v2.2 M51.5 358.4 v3.5 M65.4 358.4 v2.2 M79.3 358.4 v3.5 M93.3 358.4 v2.2 M107.2 358.4 v3.5 M121.1 358.4 v2.2 M135.1 358.4 v3.5 M149.0 358.4 v2.2 M162.9 358.4 v3.5 M176.9 358.4 v2.2 M190.8 358.4 v3.5" stroke="#505050" stroke-width="1.2"/>
<text x="23.6" y="376.9" font-size="10.6" text-anchor="middle" fill="#222">650</text>
<text x="51.5" y="376.9" font-size="10.6" text-anchor="middle" fill="#222">700</text>
<text x="79.3" y="376.9" font-size="10.6" text-anchor="middle" fill="#222">750</text>
<text x="107.2" y="376.9" font-size="10.6" text-anchor="middle" fill="#222">800</text>
<text x="135.1" y="376.9" font-size="10.6" text-anchor="middle" fill="#222">850</text>
<text x="162.9" y="376.9" font-size="10.6" text-anchor="middle" fill="#222">900</text>
<text x="190.8" y="376.9" font-size="10.6" text-anchor="middle" fill="#222">950</text>
<text x="106.6" y="395.1" font-size="10.8" text-anchor="middle" fill="#222">Wavelength (nm)</text>
<text x="28.7" y="74.1" font-size="10.2" fill="#e60012">160</text>
<text x="28.7" y="98.0" font-size="10.2" fill="#e4005a">150</text>
<text x="28.7" y="121.8" font-size="10.2" fill="#e4005a">140</text>
<text x="28.7" y="145.5" font-size="10.2" fill="#1d2088">135</text>
<text x="28.7" y="168.7" font-size="10.2" fill="#0068b7">130</text>
<text x="28.7" y="192.9" font-size="10.2" fill="#00a0e9">125</text>
<text x="28.7" y="216.8" font-size="10.2" fill="#009e96">120</text>
<text x="28.7" y="240.0" font-size="10.2" fill="#009944">115</text>
<text x="28.7" y="263.6" font-size="10.2" fill="#8fc31f">110</text>
<text x="28.7" y="287.3" font-size="10.2" fill="#f39800">105</text>
<text x="28.7" y="311.2" font-size="10.2" fill="#000000">100</text>
<g clip-path="url(#cb)" fill="none" stroke-width="2.35" stroke-linejoin="round" stroke-linecap="round">
<path d="M231.7 326.2 C233.2 326.0 237.5 325.6 240.5 324.9 C243.5 324.2 246.6 323.4 249.7 322.2 C252.8 321.0 256.0 319.1 258.9 317.6 C261.8 316.1 264.4 313.8 266.8 313.0 C269.2 312.2 270.8 313.6 273.4 313.0 C276.0 312.4 279.8 311.3 282.6 309.7 C285.4 308.1 288.2 305.5 290.4 303.2 C292.6 300.9 294.4 297.8 295.7 295.9 C297.0 294.0 297.2 293.5 298.3 292.0 C299.4 290.5 301.0 287.2 302.3 287.0 C303.6 286.8 304.7 287.5 306.2 291.0 C307.7 294.5 309.8 302.6 311.5 307.8 C313.2 313.0 315.3 318.2 316.7 322.2 C318.1 326.2 318.9 329.8 320.0 332.0 C321.1 334.2 321.9 334.5 323.5 335.5 C325.1 336.5 327.4 336.7 329.3 337.9 C331.2 339.1 333.2 341.3 335.2 342.5 C337.1 343.7 339.2 344.1 341.0 344.9 C342.8 345.7 343.8 345.8 345.7 347.2 C347.6 348.6 350.5 351.2 352.7 353.0 C354.9 354.8 357.0 356.6 358.6 357.7 C360.2 358.8 361.0 358.8 362.1 359.5 C363.2 360.2 364.5 361.6 365.0 362.0" stroke="#000000"/>
<path d="M231.7 300.8 L232.4 300.6 L233.3 300.5 L234.3 300.4 L235.5 300.3 L236.8 300.2 L238.1 300.0 L239.3 299.8 L240.5 299.6 L241.6 299.2 L242.7 298.9 L243.9 298.7 L245.1 298.5 L246.3 298.2 L247.4 297.8 L248.6 297.4 L249.7 296.9 L250.7 296.4 L251.8 295.9 L252.9 295.3 L253.9 294.6 L254.9 293.9 L255.9 293.2 L256.9 292.6 L257.9 292.0 L258.9 291.5 L260.1 291.1 L261.3 290.7 L262.4 290.2 L263.5 289.9 L264.6 289.6 L265.7 289.2 L266.8 289.0 L267.9 288.9 L269.1 288.7 L270.2 288.6 L271.3 288.7 L272.4 288.6 L273.6 288.4 L274.7 288.3 L275.8 288.1 L277.0 287.8 L278.1 287.5 L279.2 287.2 L280.4 286.8 L281.5 286.3 L282.6 285.7 L283.6 285.2 L284.6 284.5 L285.6 283.9 L286.6 283.1 L287.5 282.3 L288.5 281.5 L289.5 280.7 L290.4 279.8 L291.3 279.0 L292.0 278.1 L292.8 277.2 L293.6 276.3 L294.4 275.3 L295.0 274.3 L295.7 273.2 L296.4 272.3 L297.0 271.3 L297.6 270.2 L298.1 269.0 L298.7 267.9 L299.1 266.7 L299.5 265.5 L300.0 264.4 L300.4 263.3 L300.9 262.2 L301.6 261.1 L302.5 259.9 L303.5 258.8 L304.5 257.8 L305.3 256.9 L306.1 256.1 L306.9 255.7 L308.2 255.6 L309.2 256.5 L310.2 258.4 L310.5 259.1 L310.8 260.0 L311.1 261.0 L311.6 262.0 L311.9 263.1 L312.2 264.2 L312.6 265.4 L313.1 266.6 L313.5 267.8 L313.8 269.0 L314.0 270.2 L314.3 271.3 L314.7 272.5 L315.1 273.6 L315.4 274.9 L315.7 276.1 L316.1 277.4 L316.4 278.6 L316.8 279.7 L317.1 280.8 L317.5 281.8 L317.8 282.6 L318.0 283.4 L318.8 285.0 L319.3 285.5 L319.9 286.6 L320.2 287.4 L320.5 288.4 L320.8 289.5 L321.1 290.7 L321.5 291.9 L322.0 293.0 L322.5 294.1 L323.1 294.9 L323.8 295.7 L324.5 296.3 L325.3 296.9 L326.2 297.3 L327.2 297.8 L328.4 298.5 L329.8 299.4 L330.5 299.9 L331.3 300.5 L332.2 301.1 L333.2 301.7 L334.2 302.4 L335.2 303.0 L336.2 303.8 L337.2 304.6 L338.3 305.4 L339.3 306.0 L340.4 306.7 L341.3 307.5 L342.2 308.1 L343.1 308.7 L343.9 309.3 L345.1 310.0 L346.1 310.8 L347.0 311.6 L347.9 312.2 L348.8 313.0 L349.6 313.6 L350.4 314.3 L351.1 314.9 L351.7 315.7 L352.3 316.5 L353.0 317.5 L353.7 318.5 L354.1 319.6 L354.4 320.7 L354.8 321.8 L355.1 323.0 L355.6 324.0 L356.1 325.0 L356.8 326.0 L357.5 326.9 L358.2 327.8 L358.9 328.8 L359.7 329.6 L360.6 330.4 L361.4 331.2 L362.1 332.0 L363.0 332.9 L363.9 333.7 L364.9 334.3 L365.9 334.9 L366.9 335.5 L368.0 336.2 L369.1 336.8 L370.1 337.3 L371.2 337.7 L372.3 338.1 L373.5 338.4 L374.6 338.8 L375.8 339.2 L377.1 339.3 L378.4 339.5 L379.5 339.7 L380.6 339.8 L381.8 339.9 L383.0 339.9 L384.2 339.9 L385.5 339.9 L386.7 339.9 L387.9 339.8 L389.0 339.7 L390.1 339.6 L391.4 339.5 L392.8 339.3 L394.1 339.0 L395.4 338.8 L396.6 338.5 L397.7 338.3 L398.7 338.2 L399.5 338.1 L401.3 337.6 L402.0 337.4" stroke="#f39800"/>
<path d="M231.7 276.0 L232.4 275.9 L233.3 275.7 L234.3 275.4 L235.5 275.2 L236.8 275.1 L238.1 274.9 L239.4 274.7 L240.5 274.4 L241.6 274.2 L242.8 274.0 L243.9 273.7 L245.1 273.5 L246.2 273.4 L247.3 273.2 L248.5 273.2 L249.7 273.0 L250.7 272.5 L251.7 271.9 L252.8 271.4 L253.9 270.8 L254.9 270.1 L255.9 269.3 L256.8 268.6 L257.9 268.1 L258.9 267.7 L260.2 267.2 L261.4 266.7 L262.5 266.2 L263.5 265.4 L264.5 264.7 L265.6 264.4 L266.8 264.4 L267.9 264.1 L269.1 263.7 L270.2 263.9 L271.3 264.3 L272.4 264.6 L273.6 264.6 L274.7 264.4 L275.8 264.1 L277.0 263.9 L278.1 263.8 L279.2 263.5 L280.3 263.1 L281.5 262.9 L282.7 262.6 L283.7 262.1 L284.7 261.5 L285.6 260.7 L286.5 259.9 L287.6 259.3 L288.6 258.7 L289.5 257.9 L290.3 257.0 L291.1 256.1 L292.0 255.4 L292.9 254.7 L293.7 253.9 L294.6 253.2 L295.5 252.5 L296.3 251.6 L296.9 250.4 L297.5 249.5 L298.2 248.6 L298.8 247.6 L299.4 246.5 L300.0 245.3 L300.4 244.1 L301.0 243.0 L301.6 242.0 L302.0 241.0 L302.4 240.0 L303.0 238.7 L303.5 237.4 L303.9 236.2 L304.2 235.1 L304.6 234.0 L305.0 233.0 L305.6 231.7 L306.5 230.6 L307.2 229.4 L307.8 228.3 L308.6 227.5 L310.0 226.8 L311.5 227.0 L312.7 227.9 L313.3 228.5 L313.8 229.3 L314.3 230.3 L314.6 231.5 L315.0 232.8 L315.7 233.9 L316.3 235.1 L316.9 236.2 L317.5 237.3 L317.9 238.5 L318.0 239.7 L318.2 240.9 L318.8 242.0 L319.4 243.1 L319.8 244.3 L320.1 245.5 L320.4 246.7 L320.8 247.8 L321.3 249.0 L321.9 250.1 L322.6 251.1 L323.1 252.2 L323.6 253.3 L324.3 254.1 L325.2 254.9 L325.8 255.6 L326.4 256.3 L327.3 256.8 L328.3 257.5 L329.8 258.4 L330.7 258.8 L331.4 259.4 L332.1 260.3 L333.1 260.8 L334.2 261.3 L335.0 262.3 L336.0 263.2 L337.1 263.8 L338.2 264.4 L339.4 265.0 L340.4 265.7 L341.2 266.6 L342.1 267.3 L343.2 267.8 L344.0 268.3 L345.0 269.1 L346.0 269.7 L346.9 270.2 L347.7 270.8 L348.5 271.3 L349.3 271.8 L350.1 272.4 L350.9 273.1 L351.7 274.1 L352.4 275.4 L352.7 276.2 L353.2 277.0 L353.8 277.8 L354.3 278.7 L354.7 279.8 L355.0 280.9 L355.3 282.0 L355.8 283.1 L356.2 284.2 L356.9 285.3 L357.2 286.5 L357.6 287.7 L358.2 288.8 L358.4 290.0 L358.9 291.1 L359.5 292.1 L360.0 293.2 L360.4 294.2 L360.8 295.2 L361.3 296.3 L361.9 297.4 L362.4 298.4 L362.8 299.6 L363.4 300.6 L364.1 301.6 L364.5 302.7 L364.8 303.8 L365.3 304.8 L365.8 305.8 L366.4 306.6 L366.9 307.6 L367.4 308.4 L368.1 309.2 L368.7 309.9 L369.4 310.6 L370.2 311.6 L370.9 312.6 L371.6 313.6 L372.6 314.3 L373.6 314.9 L374.8 315.2 L375.9 315.5 L376.8 316.1 L377.7 316.7 L378.7 317.2 L379.6 317.5 L380.6 317.9 L381.7 318.2 L382.9 318.2 L384.1 318.2 L385.3 318.2 L386.5 318.0 L387.7 318.0 L388.8 318.1 L389.9 318.1 L390.9 317.7 L391.9 317.5 L393.4 317.6 L394.7 317.8 L396.0 317.7 L397.1 317.6 L398.1 317.4 L399.0 317.1 L400.9 316.8 L402.0 316.6" stroke="#8fc31f"/>
<path d="M231.6 250.9 L232.3 251.0 L233.3 251.4 L234.4 251.1 L235.5 250.4 L236.8 250.2 L238.1 250.2 L239.4 250.0 L240.5 249.5 L241.6 249.1 L242.8 249.1 L243.9 249.1 L245.1 249.4 L246.3 249.3 L247.4 248.9 L248.6 248.6 L249.7 248.3 L250.8 248.1 L251.8 247.6 L252.7 246.9 L253.9 246.8 L254.9 246.2 L255.7 245.2 L256.8 244.9 L257.9 244.7 L258.9 244.1 L260.0 243.7 L261.2 243.4 L262.4 243.0 L263.5 242.3 L264.6 241.8 L265.9 241.7 L267.0 241.5 L268.1 240.8 L269.2 240.3 L270.4 240.5 L271.6 240.7 L272.7 240.5 L273.9 240.3 L275.0 240.6 L276.1 240.8 L277.3 240.7 L278.5 240.8 L279.7 240.7 L280.9 240.5 L281.9 239.8 L282.9 238.9 L284.1 238.6 L285.4 238.8 L286.6 238.5 L287.4 237.5 L288.4 237.0 L289.5 236.7 L290.4 236.0 L291.5 235.6 L292.7 235.3 L293.5 234.5 L294.3 233.5 L295.0 232.8 L295.9 232.3 L296.9 231.7 L297.6 230.8 L298.1 229.8 L299.0 229.1 L300.0 228.3 L300.6 227.2 L301.1 225.9 L301.6 224.9 L302.4 224.1 L303.2 223.2 L303.9 222.2 L304.7 221.1 L305.3 220.0 L305.9 218.8 L306.4 217.7 L307.0 216.6 L307.7 215.7 L308.0 214.6 L308.7 213.9 L310.0 212.7 L310.9 211.4 L311.2 210.1 L311.3 208.9 L311.7 207.9 L312.0 207.0 L312.7 205.6 L313.8 205.0 L315.1 205.3 L316.3 205.2 L317.4 204.9 L318.7 204.9 L319.5 205.5 L319.6 206.6 L320.0 207.7 L320.9 208.7 L321.6 209.9 L322.1 211.4 L322.6 212.2 L323.8 212.9 L324.6 213.8 L325.0 215.1 L325.5 216.2 L326.2 217.3 L326.7 218.4 L327.4 219.3 L327.9 220.1 L328.4 220.9 L329.9 221.4 L331.2 220.7 L332.4 219.8 L333.7 219.6 L334.8 219.7 L335.9 219.5 L337.2 219.3 L338.5 219.2 L339.8 219.0 L341.0 219.1 L342.3 219.5 L343.6 219.5 L344.9 219.7 L346.2 219.7 L347.3 219.2 L348.5 218.9 L349.7 218.3 L350.6 217.6 L351.5 216.9 L352.3 216.3 L353.5 215.3 L354.6 214.4 L355.9 214.3 L357.1 214.5 L358.5 214.8 L359.9 215.9 L360.6 216.6 L361.3 217.4 L361.7 218.5 L361.6 219.8 L362.1 221.0 L363.1 222.1 L363.7 223.5 L364.1 224.4 L364.5 225.5 L364.7 226.7 L364.7 227.9 L365.0 229.1 L365.0 230.5 L365.5 231.6 L366.2 232.7 L366.6 233.9 L366.9 235.0 L367.0 236.0 L367.6 237.2 L368.2 238.3 L368.6 239.3 L368.8 240.3 L368.8 241.4 L369.1 242.5 L369.3 243.7 L369.6 245.0 L369.8 245.9 L370.0 246.9 L370.3 247.9 L370.4 248.9 L370.2 250.0 L370.6 251.1 L371.0 252.2 L370.7 253.4 L370.7 254.6 L370.9 255.9 L371.1 257.3 L371.4 258.6 L372.2 259.4 L372.7 260.3 L373.0 261.4 L373.2 262.5 L373.1 263.7 L373.3 264.8 L373.8 265.9 L374.1 267.1 L374.6 268.2 L374.8 269.4 L374.8 270.6 L375.2 271.8 L375.5 273.0 L376.2 274.0 L377.1 274.9 L377.4 276.0 L377.2 277.3 L377.2 278.4 L377.9 279.5 L378.9 280.3 L379.7 281.3 L380.1 282.4 L380.6 283.5 L381.1 284.6 L381.4 285.7 L381.7 286.8 L382.0 287.9 L382.3 289.1 L382.9 290.0 L383.6 290.9 L384.1 291.8 L384.8 292.6 L385.7 293.1 L386.5 293.6 L387.4 294.4 L388.4 295.2 L389.6 295.7 L390.8 296.1 L392.0 296.6 L393.1 297.3 L394.2 297.9 L395.3 298.3 L396.5 298.4 L397.4 298.9 L398.2 299.2 L399.1 299.0 L401.4 299.4 L402.0 299.5" stroke="#009944"/>
<path d="M231.8 225.9 L232.4 225.6 L233.3 225.5 L234.4 225.4 L235.5 225.0 L236.8 224.8 L238.1 224.4 L239.3 224.3 L240.5 224.3 L241.6 223.9 L242.7 223.3 L243.9 223.2 L245.1 223.4 L246.2 223.3 L247.3 223.0 L248.5 222.9 L249.7 222.6 L250.7 222.5 L251.8 222.3 L252.8 221.6 L253.8 221.1 L254.8 220.6 L255.8 220.0 L257.0 219.8 L258.0 219.5 L258.9 219.0 L259.9 218.0 L261.1 217.5 L262.4 217.7 L263.6 217.4 L264.6 217.0 L265.7 216.8 L266.8 216.5 L267.9 216.3 L269.1 216.4 L270.2 216.5 L271.3 216.4 L272.5 216.1 L273.6 215.9 L274.7 216.2 L275.8 216.3 L276.9 216.2 L278.0 216.3 L279.0 216.1 L280.1 215.6 L281.3 215.6 L282.6 215.4 L283.5 215.2 L284.7 215.3 L285.8 215.0 L286.8 214.0 L287.8 213.3 L288.9 212.8 L290.1 212.6 L291.2 212.0 L292.0 211.1 L292.9 210.6 L294.2 210.2 L295.1 209.3 L295.8 208.4 L296.8 207.7 L297.8 207.0 L298.8 206.2 L299.8 205.3 L300.6 204.6 L301.2 203.7 L301.6 202.5 L302.3 201.7 L303.0 200.7 L303.6 199.6 L304.3 198.7 L304.9 197.7 L305.3 196.6 L305.9 195.7 L306.7 194.6 L307.5 193.6 L308.3 192.5 L309.0 191.5 L309.8 190.6 L310.6 189.6 L311.3 188.8 L312.1 188.0 L312.6 186.7 L313.0 185.6 L313.7 184.6 L314.1 183.5 L314.5 182.5 L315.3 181.8 L316.6 181.3 L317.8 180.8 L318.9 180.2 L320.0 180.4 L320.7 181.0 L321.5 181.8 L322.3 182.7 L322.9 183.8 L323.4 185.1 L324.2 185.9 L325.2 186.9 L325.6 188.1 L326.2 189.2 L326.9 190.2 L327.4 191.1 L328.5 192.2 L329.5 192.9 L331.1 193.1 L332.1 193.1 L333.1 192.6 L334.0 191.7 L335.1 191.0 L336.4 190.8 L337.8 190.6 L338.9 190.1 L339.8 189.1 L340.9 188.6 L342.1 188.6 L343.3 188.3 L344.3 187.9 L345.4 187.6 L346.5 187.4 L347.5 187.1 L348.7 186.3 L349.8 185.6 L350.8 184.8 L351.4 183.5 L352.2 182.4 L353.1 181.8 L353.9 181.0 L354.7 180.0 L355.5 179.1 L356.2 178.2 L356.7 177.2 L357.1 176.1 L358.0 175.0 L359.1 174.1 L359.9 173.0 L360.6 172.0 L361.1 171.1 L362.1 170.1 L362.9 169.4 L363.4 168.7 L364.5 168.4 L365.6 169.4 L366.0 170.3 L366.5 171.3 L367.1 172.5 L367.9 173.9 L368.7 174.5 L369.2 175.4 L369.3 176.5 L370.0 177.4 L370.7 178.4 L370.9 179.7 L371.2 181.1 L371.8 182.5 L372.5 183.2 L373.0 184.1 L373.5 185.1 L373.6 186.2 L373.3 187.4 L373.4 188.6 L374.0 189.7 L374.2 190.9 L374.2 192.1 L374.2 193.3 L374.5 194.4 L375.1 195.5 L375.3 196.5 L375.2 197.6 L375.6 198.5 L376.3 199.8 L376.6 201.0 L376.5 202.3 L376.5 203.4 L376.9 204.5 L377.1 205.6 L377.0 206.7 L377.3 207.8 L378.0 208.8 L378.7 209.9 L378.6 211.0 L378.3 212.0 L378.6 213.0 L379.2 213.9 L379.1 214.9 L379.0 215.9 L379.6 216.9 L380.1 217.9 L380.3 219.0 L380.4 220.3 L380.6 221.6 L380.8 223.0 L380.8 223.9 L381.1 224.9 L381.6 225.8 L382.1 226.8 L382.3 227.9 L382.1 229.2 L382.3 230.3 L382.6 231.5 L382.4 232.8 L382.6 234.0 L382.9 235.2 L383.1 236.4 L383.4 237.6 L384.0 238.7 L384.5 239.8 L384.5 241.0 L384.4 242.1 L384.7 243.2 L385.2 244.1 L385.5 245.1 L385.9 246.3 L386.8 247.4 L387.6 248.4 L387.8 249.6 L387.8 250.8 L388.3 251.8 L389.1 252.7 L389.6 253.6 L389.9 254.7 L390.3 255.6 L391.0 256.5 L391.5 257.4 L391.7 258.5 L392.0 259.5 L392.2 260.8 L392.6 262.0 L393.2 263.1 L393.8 264.3 L394.5 265.4 L395.4 266.3 L396.0 267.4 L396.1 268.7 L396.8 269.6 L397.5 270.4 L398.1 271.2 L398.9 271.8 L399.4 272.3 L400.6 274.0 L401.4 274.8 L401.9 275.3" stroke="#009e96"/>
<path d="M231.7 200.3 L232.4 199.9 L233.3 200.0 L234.4 199.9 L235.5 199.4 L236.8 199.2 L238.1 199.2 L239.3 199.1 L240.5 199.1 L241.7 198.9 L242.8 198.6 L243.9 198.6 L245.1 198.2 L246.2 197.9 L247.4 198.1 L248.6 197.9 L249.7 197.5 L250.9 197.6 L251.9 197.2 L252.7 196.4 L253.6 195.7 L254.5 194.9 L255.4 194.3 L256.7 194.2 L257.9 194.2 L258.9 193.6 L259.8 192.9 L260.8 192.5 L261.8 192.1 L263.0 191.9 L264.1 191.6 L265.1 191.2 L266.1 190.7 L267.2 190.3 L268.3 189.9 L269.4 189.5 L270.4 189.5 L271.5 189.6 L272.6 189.6 L273.8 189.4 L274.9 189.5 L276.1 189.9 L277.2 190.1 L278.4 190.2 L279.5 190.2 L280.6 190.1 L281.6 190.1 L282.6 190.3 L283.9 190.0 L285.2 189.7 L286.5 189.7 L287.6 189.2 L288.5 188.3 L289.6 187.9 L290.7 187.6 L291.7 186.9 L292.6 186.3 L293.5 185.6 L294.3 184.9 L295.4 184.5 L296.6 184.1 L297.5 183.4 L298.2 182.4 L298.6 181.1 L299.6 180.4 L300.5 179.9 L301.3 179.1 L302.2 178.5 L302.8 177.6 L303.0 176.3 L303.6 175.4 L304.6 174.7 L305.3 173.9 L305.9 172.9 L306.9 172.2 L307.7 171.3 L308.0 170.1 L308.8 169.2 L310.0 168.4 L310.8 167.4 L311.3 166.2 L311.5 164.8 L312.2 163.7 L313.1 162.9 L313.6 161.9 L314.1 160.9 L314.9 160.3 L316.0 159.3 L316.9 158.2 L317.5 157.1 L318.3 156.5 L319.3 156.5 L320.0 156.1 L321.1 155.7 L322.2 156.2 L322.9 157.3 L323.5 158.6 L324.5 159.5 L325.2 160.2 L325.8 161.2 L326.7 162.1 L327.8 162.9 L328.6 163.7 L329.0 164.8 L329.8 165.6 L330.8 165.5 L331.8 165.2 L332.9 165.0 L334.0 164.7 L335.2 164.3 L336.4 163.9 L337.5 163.3 L338.5 162.5 L339.5 162.0 L340.9 162.1 L342.2 162.0 L343.2 161.4 L344.2 160.6 L345.3 159.9 L346.2 159.1 L347.2 158.4 L348.2 157.9 L348.9 157.0 L349.5 156.1 L350.4 155.4 L351.4 154.8 L352.3 154.1 L353.2 153.2 L354.1 152.3 L355.0 151.3 L355.3 150.3 L355.7 149.3 L356.5 148.6 L357.3 147.8 L357.8 146.7 L358.2 145.6 L358.6 144.5 L359.5 143.6 L360.4 142.8 L360.7 141.6 L360.9 140.5 L361.8 139.7 L362.7 138.9 L363.3 137.8 L363.5 136.5 L363.7 135.1 L364.2 133.8 L365.0 132.8 L365.7 131.8 L366.6 130.9 L367.1 129.9 L367.4 128.9 L368.0 128.2 L368.5 127.7 L369.7 126.1 L370.5 126.0 L371.3 125.9 L372.3 126.3 L373.1 127.2 L373.6 128.5 L374.4 130.1 L374.9 130.9 L375.3 131.7 L375.6 132.8 L375.9 133.8 L376.4 135.0 L376.9 136.2 L377.4 137.1 L378.1 138.0 L378.4 139.1 L378.5 140.3 L378.6 141.5 L378.7 142.7 L379.3 143.8 L380.0 144.8 L380.2 146.0 L380.0 147.1 L380.0 148.2 L380.4 149.2 L381.1 150.2 L381.6 151.2 L381.8 152.3 L381.7 153.5 L381.7 154.7 L382.1 156.0 L382.2 157.0 L382.3 157.9 L382.7 158.8 L382.7 159.8 L382.5 160.8 L382.4 161.9 L382.8 162.9 L383.0 164.1 L382.8 165.4 L383.0 166.8 L383.8 168.3 L384.3 169.9 L384.1 170.8 L383.8 171.8 L384.0 172.7 L384.3 173.7 L384.3 174.7 L384.7 175.7 L385.6 176.7 L386.0 177.7 L385.9 178.9 L386.0 180.1 L386.4 181.2 L386.4 182.4 L386.6 183.6 L386.9 184.8 L386.9 186.1 L387.1 187.3 L387.6 188.4 L387.7 189.7 L387.5 190.9 L388.0 192.1 L388.7 193.1 L389.2 194.3 L389.4 195.4 L389.2 196.6 L389.0 197.8 L389.3 198.9 L389.7 200.0 L390.0 201.1 L390.4 202.3 L390.4 203.5 L390.5 204.7 L391.3 205.8 L391.8 206.9 L391.9 208.1 L391.9 209.4 L392.0 210.6 L392.0 211.8 L392.5 212.9 L393.2 213.9 L393.5 215.0 L393.8 216.1 L394.0 217.2 L394.0 218.3 L393.6 219.5 L393.8 220.5 L394.5 221.4 L394.9 222.3 L394.9 223.3 L394.8 224.2 L395.0 225.0 L395.6 226.6 L396.0 228.0 L396.2 229.4 L396.6 230.6 L397.0 231.7 L397.4 232.8 L398.0 233.6 L398.3 234.6 L398.2 235.6 L398.7 236.4 L399.6 237.0 L399.8 237.9 L399.8 239.7 L400.3 241.1 L401.2 242.2 L401.6 243.3 L401.6 244.4 L401.9 245.0" stroke="#00a0e9"/>
<path d="M231.8 174.6 L232.4 174.1 L233.2 173.5 L234.3 173.3 L235.5 173.2 L236.8 173.3 L238.1 173.4 L239.3 172.8 L240.5 172.4 L241.6 172.2 L242.8 172.3 L243.9 172.4 L245.1 172.3 L246.2 172.3 L247.3 172.0 L248.4 171.7 L249.6 171.5 L250.6 171.5 L251.8 171.6 L252.8 171.2 L253.8 170.7 L254.8 170.3 L255.7 169.5 L256.6 168.7 L257.9 168.8 L259.2 168.8 L260.1 168.2 L260.8 167.2 L261.7 166.6 L262.9 166.5 L264.0 166.2 L265.0 165.8 L266.1 165.3 L267.1 164.7 L268.2 164.4 L269.4 164.1 L270.4 164.2 L271.5 164.4 L272.6 164.6 L273.7 164.8 L274.8 165.0 L276.0 164.9 L277.3 164.5 L278.4 164.6 L279.5 165.2 L280.6 165.1 L281.6 164.8 L282.6 165.2 L284.0 165.1 L285.2 164.3 L286.4 163.9 L287.6 163.7 L288.8 163.5 L289.8 162.8 L290.7 162.0 L291.8 161.6 L292.9 161.2 L293.8 160.6 L294.7 159.9 L295.7 159.5 L296.7 159.0 L297.8 158.6 L298.9 158.1 L299.9 157.3 L300.7 156.7 L301.6 156.0 L302.3 155.2 L302.9 154.1 L303.4 153.0 L304.0 152.0 L304.8 151.1 L305.7 150.2 L306.6 149.4 L307.2 148.3 L307.7 147.3 L308.8 146.6 L309.9 145.9 L310.5 144.8 L310.7 143.5 L311.5 142.5 L312.4 141.6 L312.7 140.3 L312.9 139.1 L313.6 138.2 L314.6 137.6 L315.4 137.1 L316.2 135.6 L316.8 134.1 L317.6 132.9 L318.5 132.2 L319.7 132.0 L320.7 132.2 L321.6 132.2 L322.8 132.3 L323.8 133.3 L324.7 134.5 L325.8 135.0 L326.8 135.9 L327.4 137.2 L328.0 138.5 L328.8 139.5 L329.8 140.3 L330.9 140.8 L332.1 140.6 L333.3 139.8 L334.4 139.1 L335.7 138.7 L337.1 138.1 L338.0 137.7 L339.0 137.3 L340.1 137.1 L341.4 137.0 L342.7 136.8 L343.6 136.0 L344.5 135.0 L345.4 134.3 L346.4 134.0 L347.4 133.9 L348.8 133.3 L349.9 132.7 L350.7 131.8 L351.2 130.7 L352.3 129.6 L352.9 128.9 L353.4 128.0 L354.0 127.2 L354.3 126.1 L354.9 125.1 L355.9 124.3 L356.5 123.2 L356.6 121.8 L357.1 120.5 L357.9 119.4 L358.8 118.8 L359.2 117.8 L359.2 116.6 L359.8 115.7 L360.5 114.7 L361.0 113.6 L361.4 112.5 L361.8 111.4 L362.1 110.3 L362.4 109.1 L363.1 108.1 L363.8 107.2 L364.3 106.2 L364.8 105.2 L365.4 104.2 L365.7 103.0 L366.0 101.7 L366.4 100.5 L367.2 99.6 L367.9 98.6 L368.0 97.3 L368.5 96.2 L369.3 95.4 L369.7 94.4 L370.1 93.4 L370.4 92.5 L370.7 91.6 L371.9 90.4 L373.4 89.7 L374.2 88.8 L374.8 87.9 L375.6 87.3 L376.3 86.8 L377.4 85.5 L378.3 84.9 L379.1 84.9 L380.2 86.2 L381.2 86.4 L381.7 87.0 L381.8 87.8 L381.9 88.8 L381.7 89.9 L382.0 90.9 L382.6 91.8 L383.2 92.9 L383.6 94.1 L384.0 95.4 L384.5 96.8 L384.7 98.4 L384.9 100.0 L385.1 100.9 L385.1 101.8 L385.4 102.7 L386.3 103.5 L386.5 104.4 L386.1 105.6 L386.3 106.6 L386.9 107.6 L387.0 108.7 L387.2 109.7 L387.6 110.8 L387.7 112.0 L387.9 113.1 L388.0 114.3 L388.1 115.5 L388.4 116.7 L388.7 117.9 L389.2 119.1 L389.5 120.3 L389.7 121.5 L389.8 122.8 L390.0 124.0 L390.4 125.2 L391.0 126.4 L391.4 127.6 L391.7 128.9 L391.7 129.9 L391.4 131.0 L391.5 132.1 L392.0 133.1 L392.1 134.2 L391.9 135.4 L391.8 136.6 L391.7 137.8 L392.2 138.9 L392.9 140.0 L393.3 141.1 L393.6 142.3 L393.6 143.5 L393.6 144.7 L394.1 145.9 L394.2 147.1 L394.1 148.3 L394.2 149.5 L394.3 150.7 L394.2 151.9 L394.3 153.0 L395.0 154.1 L395.3 155.2 L395.1 156.4 L394.9 157.5 L395.0 158.5 L395.4 159.5 L396.2 160.4 L396.5 161.4 L396.3 162.4 L396.1 163.3 L396.2 164.2 L396.4 165.0 L396.6 166.7 L397.1 168.2 L397.2 169.7 L397.1 171.1 L397.2 172.4 L397.3 173.6 L397.7 174.7 L398.0 175.8 L398.0 176.8 L398.0 177.7 L398.0 178.7 L398.1 179.6 L398.2 180.4 L398.7 181.2 L399.0 182.0 L399.1 183.8 L399.6 185.3 L400.4 186.5 L400.9 187.6 L401.3 188.6 L401.9 189.3 L402.3 189.9" stroke="#0068b7"/>
<path d="M231.8 149.5 L232.5 149.2 L233.4 149.0 L234.4 148.6 L235.5 148.0 L236.7 147.6 L238.1 147.8 L239.4 148.0 L240.5 147.7 L241.6 147.4 L242.8 147.3 L244.0 147.1 L245.1 147.0 L246.3 147.1 L247.4 147.2 L248.5 147.4 L249.7 147.4 L250.7 147.3 L251.7 146.8 L252.6 146.1 L253.6 145.7 L254.7 145.4 L255.6 144.7 L256.7 144.3 L257.9 144.1 L258.9 143.4 L259.7 142.7 L260.8 142.5 L262.0 142.4 L263.0 141.9 L263.8 141.0 L264.8 140.4 L265.8 139.9 L267.0 139.7 L268.2 139.6 L269.4 139.2 L270.4 139.0 L271.5 139.4 L272.6 139.5 L273.8 139.4 L275.0 139.5 L276.1 140.0 L277.3 140.4 L278.4 140.7 L279.5 141.0 L280.6 141.1 L281.6 140.6 L282.6 140.6 L283.9 141.1 L285.1 141.0 L286.2 140.3 L287.1 139.7 L288.1 139.2 L289.1 138.7 L289.9 137.9 L290.7 137.2 L291.6 136.6 L292.8 136.2 L294.1 136.3 L295.0 135.8 L295.7 134.6 L296.5 133.9 L297.6 133.6 L298.8 133.2 L299.5 132.2 L300.1 131.3 L301.0 130.8 L302.0 130.3 L302.9 129.6 L303.6 128.8 L304.3 127.8 L305.1 127.1 L306.0 126.3 L306.6 125.3 L307.4 124.4 L308.4 123.8 L309.2 122.9 L309.6 121.6 L309.9 120.3 L310.7 119.3 L311.7 118.5 L312.6 117.6 L313.6 116.8 L314.1 115.9 L314.5 114.9 L315.2 114.4 L316.5 113.0 L317.3 112.0 L317.9 111.2 L318.3 110.3 L319.6 109.4 L321.2 109.8 L322.2 110.0 L323.2 110.7 L324.2 111.7 L325.6 112.4 L326.8 113.0 L327.6 113.9 L328.5 115.2 L329.4 116.3 L330.0 117.4 L331.1 118.0 L332.1 117.8 L333.3 117.8 L334.6 117.7 L336.0 117.4 L337.3 116.7 L338.2 115.9 L339.3 115.5 L340.4 115.1 L341.6 114.6 L342.9 114.2 L344.1 113.8 L345.2 113.3 L346.3 112.8 L347.3 112.0 L348.1 111.1 L349.0 110.6 L349.8 109.8 L350.3 108.7 L350.9 107.7 L351.8 106.9 L352.9 106.4 L354.1 105.9 L355.0 105.1 L355.6 103.9 L356.0 102.6 L356.6 101.5 L357.4 100.6 L358.3 99.8 L359.1 98.9 L359.6 97.9 L360.1 96.8 L360.7 95.9 L361.6 95.1 L362.3 94.3 L362.7 93.2 L362.9 92.1 L363.5 91.0 L364.1 90.1 L365.1 89.3 L366.0 88.5 L366.4 87.4 L366.7 86.2 L367.1 85.0 L367.4 84.0 L367.7 83.0 L367.6 81.9 L367.6 80.8 L367.9 79.7 L368.3 78.5 L368.5 77.3 L368.7 76.0 L369.2 74.7 L369.7 73.7 L370.4 72.8 L371.0 71.8 L371.6 70.7 L371.9 69.4 L372.2 68.1 L372.7 66.9 L373.4 65.9 L374.0 64.8 L374.5 63.7 L375.0 62.8 L375.5 61.9 L376.1 61.2 L377.0 59.7 L377.6 58.6 L378.0 57.8 L378.2 56.9 L378.5 56.0 L379.4 54.7 L380.0 53.3 L380.6 52.2 L381.9 51.4 L382.8 50.7 L383.5 49.8 L384.5 49.8 L385.3 50.3 L386.3 50.6 L387.5 51.0 L388.6 52.1 L389.0 53.0 L389.5 54.0 L389.8 55.2 L390.2 56.7 L390.8 57.5 L391.7 58.4 L392.0 59.7 L392.3 61.0 L392.9 62.2 L393.5 63.5 L393.5 64.6 L393.3 65.8 L393.9 66.9 L394.7 67.8 L395.1 69.0 L395.0 70.3 L395.1 71.6 L395.6 73.0 L395.9 73.9 L395.9 75.0 L396.0 76.1 L396.4 77.2 L396.6 78.4 L397.0 79.5 L397.4 80.6 L397.3 81.8 L397.3 83.0 L397.8 84.0 L398.1 85.0 L397.7 86.1 L398.0 87.5 L398.9 88.7 L399.0 90.0 L398.7 91.4 L398.8 92.6 L399.3 93.6 L399.8 94.3 L399.7 95.1" stroke="#1d2088"/>
<path d="M231.7 122.7 L232.4 122.8 L233.3 122.6 L234.3 122.6 L235.5 122.6 L236.8 122.6 L238.1 122.6 L239.3 122.5 L240.5 122.0 L241.6 121.6 L242.8 121.7 L244.0 121.8 L245.1 121.7 L246.2 121.8 L247.4 122.0 L248.5 122.0 L249.7 122.1 L250.7 121.8 L251.6 121.2 L252.5 120.6 L253.4 120.2 L254.5 119.9 L255.8 119.9 L256.9 119.7 L257.8 118.8 L258.9 118.1 L259.9 117.8 L260.9 117.4 L261.9 116.9 L262.9 116.2 L263.8 115.5 L264.9 115.0 L266.1 114.8 L267.3 114.7 L268.4 114.2 L269.5 113.9 L270.7 114.0 L271.9 114.0 L273.1 114.3 L274.3 114.7 L275.6 114.7 L276.8 114.9 L278.0 115.3 L279.2 115.6 L280.4 115.7 L281.5 115.8 L282.6 115.6 L283.9 115.2 L285.2 115.1 L286.4 114.9 L287.5 114.3 L288.6 113.7 L289.8 113.5 L291.0 113.3 L292.0 112.7 L293.0 111.8 L293.9 110.9 L295.1 110.4 L296.2 110.1 L297.3 109.6 L298.3 108.8 L299.3 107.9 L300.2 107.5 L301.3 107.1 L302.1 106.3 L302.6 105.2 L303.3 104.3 L304.2 103.6 L305.1 102.8 L305.8 101.9 L306.6 101.1 L307.4 100.3 L308.2 99.4 L309.2 98.6 L310.3 98.0 L311.5 97.4 L312.2 96.4 L312.8 95.3 L313.9 94.8 L314.7 94.1 L314.9 93.0 L315.8 91.9 L316.9 91.1 L317.7 90.3 L318.0 89.3 L318.4 88.4 L319.6 87.3 L321.0 86.7 L322.4 86.8 L323.2 87.6 L324.0 88.5 L325.0 89.4 L326.0 90.3 L327.2 90.8 L328.5 91.3 L329.0 92.4 L329.9 93.2 L331.2 93.5 L332.2 93.7 L333.4 94.1 L334.6 94.7 L336.0 94.9 L337.3 94.4 L338.5 94.0 L339.6 93.9 L340.7 93.8 L341.6 93.2 L342.4 92.2 L343.5 91.5 L344.8 91.0 L346.2 90.3 L346.9 89.6 L347.7 89.1 L348.6 88.5 L349.2 87.5 L350.1 86.7 L351.0 86.0 L352.1 85.5 L353.2 85.0 L354.1 84.2 L355.0 83.4 L355.8 82.6 L356.5 81.8 L357.2 81.0 L357.9 80.0 L358.6 79.1 L359.1 78.0 L359.9 77.3 L361.1 76.8 L361.7 75.8 L362.0 74.8 L362.8 73.9 L363.6 73.1 L364.1 72.1 L364.6 71.1 L365.3 70.2 L365.6 69.1 L366.0 68.0 L366.7 67.1 L367.6 66.3 L368.4 65.5 L368.9 64.4 L369.1 63.2 L369.5 62.0 L369.9 60.9 L370.6 59.8 L371.1 58.9 L371.5 57.9 L372.1 57.0 L372.5 55.9 L373.1 55.0 L374.1 54.2 L374.7 53.2 L374.9 52.0 L375.2 50.9 L375.9 49.9 L376.5 49.0 L377.4 48.2 L378.2 47.3 L378.3 46.2 L378.6 45.0 L379.4 44.0 L380.0 43.0 L380.5 42.0 L381.2 41.1 L381.6 40.0 L381.8 38.8 L382.7 37.9 L383.5 37.0 L383.9 35.9 L384.5 34.9 L384.8 33.7 L384.7 32.4 L384.9 31.2 L385.6 30.2 L386.3 29.3 L386.7 28.1 L387.0 26.9 L387.5 25.8 L388.0 24.7 L388.4 23.6 L389.0 22.6 L389.3 21.4 L389.4 20.3 L390.0 19.4 L390.6 18.5 L391.3 17.4 L391.9 16.3 L392.0 15.0 L392.5 14.0 L393.2 13.1 L393.8 12.2 L394.7 11.5 L395.3 10.7 L395.6 9.8 L395.9 8.9 L396.4 7.4 L397.0 6.0 L398.0 4.9 L398.6 3.8 L398.6 2.7 L398.5 1.7" stroke="#920783"/>
<path d="M231.7 95.6 L232.4 95.9 L233.3 96.2 L234.3 95.9 L235.5 95.6 L236.8 95.7 L238.1 95.7 L239.3 95.9 L240.5 95.9 L241.7 96.0 L242.7 96.6 L243.9 96.8 L245.1 96.5 L246.3 96.6 L247.4 96.9 L248.5 96.7 L249.6 96.3 L250.6 96.1 L251.8 96.3 L252.9 96.1 L253.8 95.4 L254.8 94.7 L255.8 94.1 L256.9 93.6 L257.9 92.9 L258.8 92.0 L259.8 91.6 L261.0 91.6 L262.2 91.6 L263.2 90.8 L264.1 90.0 L265.3 89.8 L266.3 89.3 L267.3 88.5 L268.4 88.2 L269.6 88.2 L270.7 88.1 L271.9 88.1 L273.2 87.9 L274.4 88.2 L275.5 89.1 L276.7 89.5 L278.1 89.3 L279.3 89.4 L280.4 89.9 L281.5 90.5 L282.6 90.8 L284.0 90.7 L285.2 90.0 L286.2 89.2 L287.4 88.8 L288.7 88.6 L289.7 87.9 L290.6 87.2 L291.8 86.8 L293.0 86.3 L294.1 85.8 L295.2 85.4 L296.4 85.1 L297.6 84.8 L298.8 84.2 L299.6 83.1 L300.2 82.1 L301.2 81.4 L302.3 80.9 L303.2 80.1 L303.9 79.0 L304.5 77.9 L305.4 77.0 L306.6 76.5 L307.6 75.8 L308.3 74.8 L309.3 74.0 L310.4 73.4 L311.4 72.7 L312.2 71.7 L312.8 70.7 L313.5 69.8 L314.3 69.2 L314.9 68.5 L316.0 67.3 L317.0 66.7 L317.8 66.3 L318.6 65.7 L319.8 64.9 L321.1 64.5 L322.3 64.8 L323.1 65.1 L324.2 65.2 L325.4 65.7 L326.5 66.4 L327.7 67.0 L328.5 67.9 L329.4 68.8 L330.6 69.4 L331.7 69.9 L332.6 70.6 L333.5 71.5 L334.6 72.3 L335.9 72.5 L337.2 71.9 L338.5 71.3 L339.5 71.0 L340.5 70.7 L341.5 70.5 L342.7 70.4 L343.8 69.8 L344.9 69.6 L346.3 69.9 L347.6 69.9 L348.6 69.3 L349.6 68.6 L350.6 67.8 L351.5 66.9 L352.4 66.1 L353.7 66.0 L355.0 65.7 L356.0 65.0 L357.0 64.4 L358.1 63.8 L358.9 62.9 L359.6 61.8 L360.6 61.0 L361.6 60.3 L362.7 59.7 L363.8 59.0 L364.4 58.0 L364.9 56.8 L365.8 55.9 L366.7 55.1 L367.5 54.2 L368.5 53.4 L369.4 52.7 L370.2 52.0 L371.0 51.4 L371.8 50.1 L372.3 49.0 L372.8 48.1 L373.3 47.1 L374.1 45.9 L374.8 45.2 L375.4 44.5 L375.9 43.6 L376.2 42.6 L376.8 41.6 L377.5 40.7 L378.0 39.6 L378.4 38.3 L379.2 37.1 L380.0 36.5 L380.7 35.7 L381.2 34.8 L381.5 33.7 L382.2 32.7 L383.1 31.9 L383.7 30.8 L384.0 29.6 L384.4 28.5 L385.1 27.5 L385.6 26.5 L385.9 25.4 L386.0 24.3 L386.4 23.3 L387.2 22.3 L387.8 21.2 L388.4 20.1 L389.0 19.1 L389.1 17.8 L389.6 16.8 L390.6 16.0 L391.1 15.1 L391.3 14.1 L391.6 13.2 L391.9 12.4 L392.7 11.0 L393.5 10.0 L394.4 9.3 L395.0 8.5 L395.5 7.4 L396.4 6.5 L397.4 5.7 L398.2 4.7 L398.9 3.9 L399.4 3.3" stroke="#e4005a"/>
<path d="M231.7 68.7 L232.4 69.0 L233.3 68.9 L234.4 69.1 L235.5 69.4 L236.8 69.9 L238.0 70.2 L239.3 70.1 L240.5 70.1 L241.6 70.3 L242.8 69.8 L243.9 69.5 L245.1 69.7 L246.2 69.4 L247.3 69.0 L248.6 69.2 L249.8 69.2 L250.8 68.8 L251.8 68.4 L252.8 67.9 L253.6 67.1 L254.5 66.4 L255.6 66.2 L256.7 65.8 L257.9 65.6 L258.9 64.9 L259.8 64.2 L260.8 64.0 L262.0 63.8 L263.1 63.5 L264.1 63.1 L265.2 62.6 L266.2 61.9 L267.2 61.3 L268.4 61.3 L269.6 61.6 L270.7 61.9 L271.9 61.8 L273.1 61.5 L274.4 61.4 L275.7 61.9 L276.8 62.6 L278.0 63.1 L279.2 63.3 L280.3 63.7 L281.5 63.7 L282.6 63.6 L283.9 63.8 L285.2 63.6 L286.3 62.9 L287.4 62.3 L288.5 62.0 L289.6 61.5 L290.7 61.2 L291.8 60.9 L292.9 60.3 L294.1 59.8 L295.1 59.3 L296.2 58.7 L297.4 58.4 L298.7 58.0 L299.7 57.0 L300.3 56.1 L300.9 55.3 L301.8 54.6 L302.7 54.0 L303.3 52.9 L304.0 52.0 L305.0 51.3 L305.9 50.6 L306.7 49.8 L307.4 49.0 L308.2 48.1 L309.1 47.3 L309.8 46.2 L310.5 45.2 L311.4 44.3 L312.0 43.4 L312.5 42.3 L313.1 41.6 L313.9 41.0 L315.2 40.0 L316.3 39.2 L317.0 38.3 L317.8 37.6 L319.6 37.2 L321.2 37.3 L322.4 37.2 L323.9 37.2 L325.1 38.2 L325.6 39.3 L326.0 40.6 L326.7 41.8 L327.7 42.7 L328.7 43.4 L329.4 44.4 L330.2 45.2 L331.2 45.5 L332.3 46.1 L333.3 46.6 L334.5 47.1 L335.7 47.8 L337.1 47.9 L338.6 47.8 L339.6 47.9 L340.7 47.7 L341.7 47.2 L342.8 46.9 L344.1 46.8 L345.3 46.6 L346.3 46.0 L347.3 45.4 L348.4 44.9 L349.5 44.7 L350.5 44.2 L351.5 43.7 L352.6 43.3 L353.6 42.8 L354.7 42.5 L355.9 42.2 L356.9 41.6 L357.9 41.1 L358.7 40.2 L359.6 39.4 L360.9 39.0 L361.9 38.3 L362.7 37.3 L363.6 36.6 L364.6 36.0 L365.5 35.2 L366.6 34.7 L367.5 34.0 L368.3 33.1 L369.3 32.6 L370.4 32.2 L371.1 31.1 L372.0 30.3 L373.1 29.8 L373.9 28.9 L374.5 27.7 L375.2 26.6 L376.1 25.7 L377.2 25.0 L378.0 24.1 L379.0 23.4 L379.8 22.6 L380.1 21.3 L380.7 20.3 L381.7 19.8 L382.7 19.2 L383.1 18.2 L383.6 17.2 L384.5 16.2 L385.3 15.5 L386.2 14.8 L387.0 14.0 L387.8 12.9 L388.4 11.8 L389.3 11.0 L390.4 10.3 L391.2 9.5 L391.6 8.5 L391.8 7.4 L393.1 6.0 L394.3 5.0 L394.9 3.9 L395.1 3.0" stroke="#e60012"/>
</g>
<g stroke="#595959" stroke-width="2.1" stroke-dasharray="4.3 2.15" fill="none">
<line x1="329.9" y1="17.2" x2="329.9" y2="347.6"/>
<line x1="295.2" y1="348.6" x2="381.9" y2="17.2"/>
</g>
<path d="M231.60 8.00 H399.60" fill="none" stroke="#959595" stroke-width="1.25"/>
<path d="M399.60 8.00 V359.50" fill="none" stroke="#5a5a5a" stroke-width="1.25"/>
<path d="M231.60 8.00 V359.50 H399.60" fill="none" stroke="#505050" stroke-width="1.25"/>
<path d="M231.6 359.5 v3.5 M245.6 359.5 v2.2 M259.6 359.5 v3.5 M273.6 359.5 v2.2 M287.6 359.5 v3.5 M301.6 359.5 v2.2 M315.6 359.5 v3.5 M329.6 359.5 v2.2 M343.6 359.5 v3.5 M357.6 359.5 v2.2 M371.6 359.5 v3.5 M385.6 359.5 v2.2 M399.6 359.5 v3.5" stroke="#505050" stroke-width="1.2"/>
<text x="231.6" y="376.9" font-size="10.6" text-anchor="middle" fill="#222">650</text>
<text x="259.6" y="376.9" font-size="10.6" text-anchor="middle" fill="#222">700</text>
<text x="287.6" y="376.9" font-size="10.6" text-anchor="middle" fill="#222">750</text>
<text x="315.6" y="376.9" font-size="10.6" text-anchor="middle" fill="#222">800</text>
<text x="343.6" y="376.9" font-size="10.6" text-anchor="middle" fill="#222">850</text>
<text x="371.6" y="376.9" font-size="10.6" text-anchor="middle" fill="#222">900</text>
<text x="399.6" y="376.9" font-size="10.6" text-anchor="middle" fill="#222">950</text>
<text x="310.4" y="395.1" font-size="10.8" text-anchor="middle" fill="#222">Wavelength (nm)</text>
<text x="239.1" y="61.5" font-size="10.2" fill="#e60012">160</text>
<text x="239.1" y="86.5" font-size="10.2" fill="#e4005a">150</text>
<text x="239.1" y="113.0" font-size="10.2" fill="#920783">140</text>
<text x="239.1" y="137.8" font-size="10.2" fill="#1d2088">135</text>
<text x="239.1" y="162.8" font-size="10.2" fill="#0068b7">130</text>
<text x="239.1" y="188.5" font-size="10.2" fill="#00a0e9">125</text>
<text x="239.1" y="213.5" font-size="10.2" fill="#009e96">120</text>
<text x="239.1" y="238.9" font-size="10.2" fill="#009944">115</text>
<text x="239.1" y="263.6" font-size="10.2" fill="#8fc31f">110</text>
<text x="239.1" y="289.0" font-size="10.2" fill="#f39800">105</text>
<text x="239.1" y="314.4" font-size="10.2" fill="#000000">100</text>
<text transform="translate(8.9 189) rotate(-90)" font-size="10.9" text-anchor="middle" fill="#222">Extinction</text>
<text transform="translate(219.1 187.7) rotate(-90)" font-size="10.9" text-anchor="middle" fill="#222">Extinction</text>
<text x="-0.7" y="11.6" font-size="15" font-weight="bold" fill="#000">a</text>
<text x="211.0" y="11.2" font-size="15" font-weight="bold" fill="#000">b</text>
<text x="420.9" y="11.5" font-size="15" font-weight="bold" fill="#000">c</text>
<text x="423.3" y="221.8" font-size="15" font-weight="bold" fill="#000">d</text>
<path d="M470.50 8.00 H673.00 V157.40" fill="none" stroke="#a8a8a8" stroke-width="1.2"/>
<path d="M470.50 8.00 V157.40 H673.00" fill="none" stroke="#505050" stroke-width="1.25"/>
<path d="M470.5 157.0 h-4.0 M470.5 145.0 h-2.5 M470.5 133.1 h-4.0 M470.5 121.2 h-2.5 M470.5 109.2 h-4.0 M470.5 97.3 h-2.5 M470.5 85.3 h-4.0 M470.5 73.3 h-2.5 M470.5 61.4 h-4.0 M470.5 49.4 h-2.5 M470.5 37.5 h-4.0 M470.5 25.6 h-2.5 M470.5 13.6 h-4.0 M484.1 157.4 v3.5 M502.6 157.4 v2.2 M521.0 157.4 v3.5 M539.5 157.4 v2.2 M557.9 157.4 v3.5 M576.4 157.4 v2.2 M594.8 157.4 v3.5 M613.2 157.4 v2.2 M631.7 157.4 v3.5 M650.2 157.4 v2.2 M668.6 157.4 v3.5" stroke="#505050" stroke-width="1.2"/>
<text x="461.8" y="160.8" font-size="10.6" text-anchor="end" fill="#222">1.28</text>
<text x="461.8" y="136.9" font-size="10.6" text-anchor="end" fill="#222">1.36</text>
<text x="461.8" y="113.0" font-size="10.6" text-anchor="end" fill="#222">1.44</text>
<text x="461.8" y="89.1" font-size="10.6" text-anchor="end" fill="#222">1.52</text>
<text x="461.8" y="65.2" font-size="10.6" text-anchor="end" fill="#222">1.60</text>
<text x="461.8" y="41.3" font-size="10.6" text-anchor="end" fill="#222">1.68</text>
<text x="461.8" y="17.4" font-size="10.6" text-anchor="end" fill="#222">1.76</text>
<text x="484.1" y="174.7" font-size="10.6" text-anchor="middle" fill="#222">10,800</text>
<text x="521.0" y="174.7" font-size="10.6" text-anchor="middle" fill="#222">11,200</text>
<text x="557.9" y="174.7" font-size="10.6" text-anchor="middle" fill="#222">11,600</text>
<text x="594.8" y="174.7" font-size="10.6" text-anchor="middle" fill="#222">12,000</text>
<text x="631.7" y="174.7" font-size="10.6" text-anchor="middle" fill="#222">12,400</text>
<text x="668.6" y="174.7" font-size="10.6" text-anchor="middle" fill="#222">12,800</text>
<text x="571.8" y="196.1" font-size="10.7" fill="#222" text-anchor="middle">1/<tspan font-style="italic">&#955;</tspan><tspan font-size="8.3" dy="2.6">LSPR</tspan><tspan dy="-2.6"> (cm</tspan><tspan font-size="7.5" dy="-4">&#8722;1</tspan><tspan dy="4">)</tspan></text>
<text transform="translate(429.3 82.0) rotate(-90)" font-size="10.8" text-anchor="middle" fill="#222">Energy (eV)</text>
<circle cx="484.2" cy="31.5" r="3.0" fill="url(#dot)"/>
<circle cx="501.9" cy="30.8" r="3.0" fill="url(#dot)"/>
<circle cx="520.3" cy="31.5" r="3.0" fill="url(#dot)"/>
<circle cx="539.4" cy="31.5" r="3.0" fill="url(#dot)"/>
<circle cx="559.4" cy="33.4" r="3.0" fill="url(#dot)"/>
<circle cx="580.3" cy="33.8" r="3.0" fill="url(#dot)"/>
<circle cx="602.0" cy="32.0" r="3.0" fill="url(#dot)"/>
<circle cx="624.3" cy="32.0" r="3.0" fill="url(#dot)"/>
<circle cx="647.8" cy="30.3" r="3.0" fill="url(#dot)"/>
<circle cx="484.2" cy="139.0" r="3.0" fill="url(#dot)"/>
<circle cx="501.9" cy="130.2" r="3.0" fill="url(#dot)"/>
<circle cx="520.3" cy="122.7" r="3.0" fill="url(#dot)"/>
<circle cx="539.4" cy="116.9" r="3.0" fill="url(#dot)"/>
<circle cx="559.4" cy="109.4" r="3.0" fill="url(#dot)"/>
<circle cx="580.3" cy="99.9" r="3.0" fill="url(#dot)"/>
<circle cx="602.0" cy="89.5" r="3.0" fill="url(#dot)"/>
<circle cx="624.3" cy="82.9" r="3.0" fill="url(#dot)"/>
<circle cx="647.8" cy="76.8" r="3.0" fill="url(#dot)"/>
<line x1="470.5" y1="33.5" x2="673" y2="33.5" stroke="#3a3a3a" stroke-width="1.0" stroke-dasharray="3.6 2.4"/>
<line x1="470.5" y1="144.1" x2="673" y2="62" stroke="#3a3a3a" stroke-width="1.0" stroke-dasharray="3.6 2.4"/>
<circle cx="605.1" cy="135.8" r="3.0" fill="url(#dot)"/>
<text x="620.1" y="138.6" font-size="9.2" fill="#222">Experiment</text>
<line x1="595.3" y1="149" x2="616.8" y2="149" stroke="#777" stroke-width="1.5" stroke-dasharray="3.4 3.3"/>
<text x="620.1" y="151.4" font-size="9.2" fill="#222">Fitting</text>
<path d="M470.50 218.00 H673.40 V367.30" fill="none" stroke="#8a8a8a" stroke-width="1.2"/>
<path d="M470.50 218.00 V367.30 H673.40" fill="none" stroke="#505050" stroke-width="1.25"/>
<path d="M470.5 358.3 h-4.0 M470.5 344.5 h-2.5 M470.5 330.7 h-4.0 M470.5 316.9 h-2.5 M470.5 303.1 h-4.0 M470.5 289.3 h-2.5 M470.5 275.5 h-4.0 M470.5 261.7 h-2.5 M470.5 247.9 h-4.0 M470.5 234.1 h-2.5 M470.5 220.3 h-4.0 M484.1 367.3 v3.5 M502.6 367.3 v2.2 M521.0 367.3 v3.5 M539.5 367.3 v2.2 M557.9 367.3 v3.5 M576.4 367.3 v2.2 M594.8 367.3 v3.5 M613.2 367.3 v2.2 M631.7 367.3 v3.5 M650.2 367.3 v2.2 M668.6 367.3 v3.5" stroke="#505050" stroke-width="1.2"/>
<text x="461.8" y="362.1" font-size="10.6" text-anchor="end" fill="#222">1.32</text>
<text x="461.8" y="334.5" font-size="10.6" text-anchor="end" fill="#222">1.38</text>
<text x="461.8" y="306.9" font-size="10.6" text-anchor="end" fill="#222">1.44</text>
<text x="461.8" y="279.3" font-size="10.6" text-anchor="end" fill="#222">1.50</text>
<text x="461.8" y="251.7" font-size="10.6" text-anchor="end" fill="#222">1.56</text>
<text x="461.8" y="224.1" font-size="10.6" text-anchor="end" fill="#222">1.62</text>
<text x="484.1" y="383.7" font-size="10.6" text-anchor="middle" fill="#222">10,800</text>
<text x="521.0" y="383.7" font-size="10.6" text-anchor="middle" fill="#222">11,200</text>
<text x="557.9" y="383.7" font-size="10.6" text-anchor="middle" fill="#222">11,600</text>
<text x="594.8" y="383.7" font-size="10.6" text-anchor="middle" fill="#222">12,000</text>
<text x="631.7" y="383.7" font-size="10.6" text-anchor="middle" fill="#222">12,400</text>
<text x="668.6" y="383.7" font-size="10.6" text-anchor="middle" fill="#222">12,800</text>
<text x="572.0" y="403.8" font-size="10.7" fill="#222" text-anchor="middle">1/<tspan font-style="italic">&#955;</tspan><tspan font-size="8.3" dy="2.6">LSPR</tspan><tspan dy="-2.6"> (cm</tspan><tspan font-size="7.5" dy="-4">&#8722;1</tspan><tspan dy="4">)</tspan></text>
<text transform="translate(429.9 298.1) rotate(-90)" font-size="10.8" text-anchor="middle" fill="#222">Energy (eV)</text>
<circle cx="484.5" cy="261.5" r="3.0" fill="url(#dot)"/>
<circle cx="502.6" cy="260.4" r="3.0" fill="url(#dot)"/>
<circle cx="521.0" cy="259.3" r="3.0" fill="url(#dot)"/>
<circle cx="540.2" cy="259.1" r="3.0" fill="url(#dot)"/>
<circle cx="560.1" cy="257.1" r="3.0" fill="url(#dot)"/>
<circle cx="580.6" cy="253.6" r="3.0" fill="url(#dot)"/>
<circle cx="602.1" cy="244.7" r="3.0" fill="url(#dot)"/>
<circle cx="624.6" cy="238.3" r="3.0" fill="url(#dot)"/>
<circle cx="647.9" cy="230.6" r="3.0" fill="url(#dot)"/>
<circle cx="484.5" cy="359.0" r="3.0" fill="url(#dot)"/>
<circle cx="502.6" cy="346.4" r="3.0" fill="url(#dot)"/>
<circle cx="521.0" cy="338.7" r="3.0" fill="url(#dot)"/>
<circle cx="540.2" cy="329.8" r="3.0" fill="url(#dot)"/>
<circle cx="560.1" cy="320.5" r="3.0" fill="url(#dot)"/>
<circle cx="580.6" cy="312.6" r="3.0" fill="url(#dot)"/>
<circle cx="602.1" cy="301.7" r="3.0" fill="url(#dot)"/>
<circle cx="624.6" cy="298.2" r="3.0" fill="url(#dot)"/>
<circle cx="647.9" cy="294.0" r="3.0" fill="url(#dot)"/>
<line x1="470.5" y1="276.5" x2="673.5" y2="276.5" stroke="#3a3a3a" stroke-width="1.0" stroke-dasharray="3.6 2.4"/>
<line x1="470.5" y1="355.9" x2="673.5" y2="232" stroke="#3a3a3a" stroke-width="1.0" stroke-dasharray="3.6 2.4"/>
<g clip-path="url(#cd)" fill="none" stroke="#000" stroke-width="1.6">
<path d="M470.5 265.8 C471.3 265.7 473.9 265.6 475.6 265.4 C477.3 265.3 479.0 265.2 480.6 265.1 C482.3 265.0 484.0 264.9 485.7 264.8 C487.4 264.6 489.1 264.5 490.8 264.4 C492.5 264.2 494.2 264.1 495.9 264.0 C497.6 263.8 499.3 263.7 500.9 263.5 C502.6 263.4 504.3 263.2 506.0 263.1 C507.7 262.9 509.4 262.8 511.1 262.6 C512.8 262.4 514.5 262.3 516.2 262.1 C517.9 261.9 519.6 261.7 521.2 261.5 C522.9 261.3 524.6 261.1 526.3 260.9 C528.0 260.7 529.7 260.5 531.4 260.3 C533.1 260.1 534.8 259.8 536.5 259.6 C538.2 259.4 539.9 259.1 541.5 258.9 C543.2 258.6 544.9 258.4 546.6 258.1 C548.3 257.8 550.0 257.5 551.7 257.2 C553.4 257.0 555.1 256.7 556.8 256.3 C558.5 256.0 560.2 255.7 561.9 255.4 C563.5 255.1 565.2 254.7 566.9 254.4 C568.6 254.0 570.3 253.6 572.0 253.2 C573.7 252.9 575.4 252.5 577.1 252.1 C578.8 251.7 580.5 251.2 582.1 250.8 C583.8 250.4 585.5 249.9 587.2 249.5 C588.9 249.0 590.6 248.5 592.3 248.0 C594.0 247.6 595.7 247.1 597.4 246.5 C599.1 246.0 600.8 245.5 602.5 244.9 C604.1 244.4 605.8 243.8 607.5 243.3 C609.2 242.7 610.9 242.1 612.6 241.5 C614.3 240.9 616.0 240.3 617.7 239.6 C619.4 239.0 621.1 238.4 622.8 237.7 C624.4 237.1 626.1 236.4 627.8 235.7 C629.5 235.0 631.2 234.3 632.9 233.6 C634.6 232.9 636.3 232.2 638.0 231.5 C639.7 230.7 641.4 230.0 643.0 229.2 C644.7 228.5 646.4 227.7 648.1 226.9 C649.8 226.2 651.5 225.4 653.2 224.6 C654.9 223.8 656.6 223.0 658.3 222.2 C660.0 221.4 661.7 220.5 663.4 219.7 C665.0 218.9 666.7 218.0 668.4 217.2 C670.1 216.3 672.7 215.1 673.5 214.6"/>
<path d="M470.5 367.6 C471.3 367.1 473.9 365.7 475.6 364.7 C477.3 363.8 479.0 362.8 480.6 361.8 C482.3 360.9 484.0 359.9 485.7 359.0 C487.4 358.0 489.1 357.1 490.8 356.2 C492.5 355.2 494.2 354.3 495.9 353.3 C497.6 352.4 499.3 351.5 500.9 350.6 C502.6 349.6 504.3 348.7 506.0 347.8 C507.7 346.9 509.4 346.0 511.1 345.1 C512.8 344.2 514.5 343.3 516.2 342.4 C517.9 341.5 519.6 340.6 521.2 339.7 C522.9 338.9 524.6 338.0 526.3 337.1 C528.0 336.3 529.7 335.4 531.4 334.6 C533.1 333.7 534.8 332.9 536.5 332.0 C538.2 331.2 539.9 330.4 541.5 329.5 C543.2 328.7 544.9 327.9 546.6 327.1 C548.3 326.3 550.0 325.5 551.7 324.7 C553.4 324.0 555.1 323.2 556.8 322.4 C558.5 321.7 560.2 320.9 561.9 320.2 C563.5 319.5 565.2 318.7 566.9 318.0 C568.6 317.3 570.3 316.6 572.0 315.9 C573.7 315.2 575.4 314.5 577.1 313.9 C578.8 313.2 580.5 312.6 582.1 311.9 C583.8 311.3 585.5 310.7 587.2 310.1 C588.9 309.4 590.6 308.9 592.3 308.3 C594.0 307.7 595.7 307.1 597.4 306.6 C599.1 306.0 600.8 305.5 602.5 305.0 C604.1 304.4 605.8 303.9 607.5 303.4 C609.2 302.9 610.9 302.4 612.6 302.0 C614.3 301.5 616.0 301.1 617.7 300.6 C619.4 300.2 621.1 299.7 622.8 299.3 C624.4 298.9 626.1 298.5 627.8 298.1 C629.5 297.7 631.2 297.4 632.9 297.0 C634.6 296.6 636.3 296.3 638.0 296.0 C639.7 295.6 641.4 295.3 643.0 295.0 C644.7 294.7 646.4 294.4 648.1 294.1 C649.8 293.8 651.5 293.5 653.2 293.2 C654.9 292.9 656.6 292.7 658.3 292.4 C660.0 292.1 661.7 291.9 663.4 291.7 C665.0 291.4 666.7 291.2 668.4 291.0 C670.1 290.7 672.7 290.4 673.5 290.3"/>
</g>
<line x1="600.3" y1="256" x2="600.3" y2="291.5" stroke="#000" stroke-width="1.6"/>
<path d="M600.3 250.3 L596.8 258.5 L603.8 258.5 Z" fill="#000"/>
<path d="M600.3 297.4 L596.8 289.2 L603.8 289.2 Z" fill="#000"/>
<text x="516.5" y="288.5" font-size="10.6" fill="#222">144 meV</text>
<circle cx="604.3" cy="345.8" r="3.0" fill="url(#dot)"/>
<text x="619.9" y="348.6" font-size="9.2" fill="#222">Experiment</text>
<line x1="593.9" y1="359" x2="615.2" y2="359" stroke="#333" stroke-width="1.6"/>
<text x="620.4" y="361.2" font-size="9.2" fill="#222">Theory</text>
</svg></body></html>
